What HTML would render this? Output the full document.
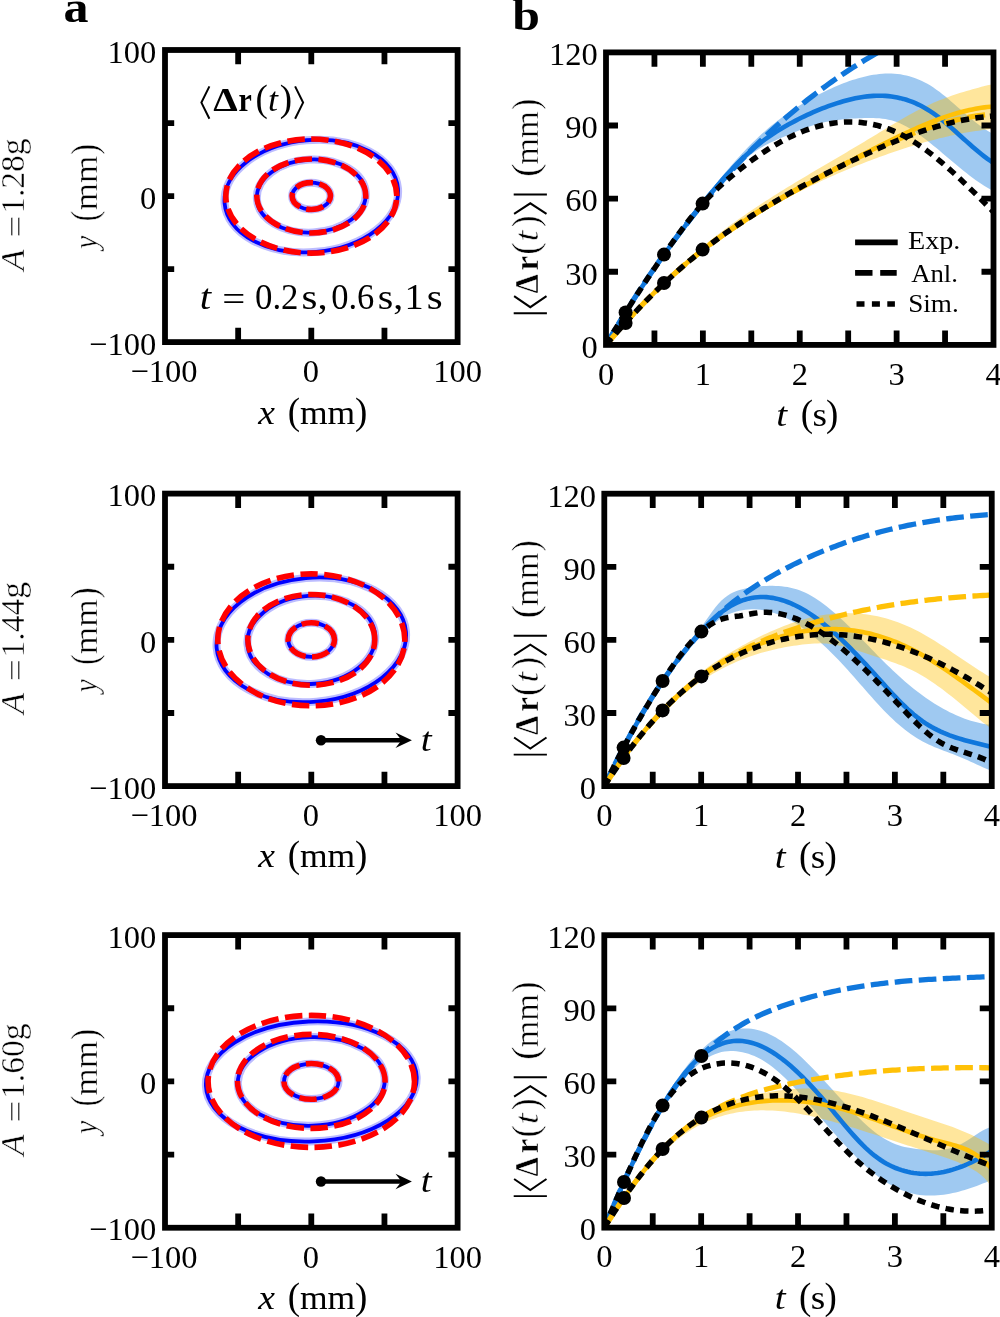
<!DOCTYPE html>
<html><head><meta charset="utf-8"><title>figure</title>
<style>html,body{margin:0;padding:0;background:#fff;width:1000px;height:1317px;overflow:hidden}svg{display:block;will-change:transform}</style>
</head><body>
<svg width="1000" height="1317" viewBox="0 0 1000 1317" style="font-family:'Liberation Serif',serif">
<rect width="1000" height="1317" fill="#fff"/>
<ellipse cx="311.3" cy="196.05" rx="19.2" ry="13.4" fill="none" stroke="#bcbcff" stroke-width="8"/>
<ellipse cx="311.3" cy="196.05" rx="19.2" ry="13.4" fill="none" stroke="#0000ff" stroke-width="3.8"/>
<ellipse cx="311.3" cy="196.05" rx="54.5" ry="36.5" fill="none" stroke="#bcbcff" stroke-width="8" transform="rotate(-3 311.3 196.05)"/>
<ellipse cx="311.3" cy="196.05" rx="54.5" ry="36.5" fill="none" stroke="#0000ff" stroke-width="3.8" transform="rotate(-3 311.3 196.05)"/>
<ellipse cx="311.3" cy="196.05" rx="87" ry="56" fill="none" stroke="#bcbcff" stroke-width="8" transform="rotate(-5 311.3 196.05)"/>
<ellipse cx="311.3" cy="196.05" rx="87" ry="56" fill="none" stroke="#0000ff" stroke-width="3.8" transform="rotate(-5 311.3 196.05)"/>
<path d="M330.5,196.05 A19.2,13.4 0 0 0 292.1,196.05 A19.2,13.4 0 0 0 330.5,196.05" fill="none" stroke="#ff0000" stroke-width="5.6" stroke-dasharray="17.4 6.5"/>
<path d="M365.8,196.05 A54.5,37 0 0 0 256.8,196.05 A54.5,37 0 0 0 365.8,196.05" fill="none" stroke="#ff0000" stroke-width="5.6" stroke-dasharray="17.4 6.5"/>
<path d="M396.8,196.05 A85.5,57.1 0 0 0 225.8,196.05 A85.5,57.1 0 0 0 396.8,196.05" fill="none" stroke="#ff0000" stroke-width="5.6" stroke-dasharray="17.4 6.5"/>
<clipPath id="cb0"><rect x="606" y="52.4" width="387.5" height="292.5"/></clipPath>
<g clip-path="url(#cb0)" fill="none">
<path d="M606,344.9 L609,339.49 L612.01,334.15 L615.01,328.88 L618.02,323.69 L621.02,318.57 L624.02,313.52 L627.03,308.54 L630.03,303.62 L633.03,298.77 L636.04,293.98 L639.04,289.25 L642.05,284.59 L645.05,279.98 L648.05,275.42 L651.06,270.92 L654.06,266.47 L657.07,262.08 L660.07,257.73 L663.07,253.43 L666.08,249.17 L669.08,244.96 L672.09,240.79 L675.09,236.66 L678.09,232.57 L681.1,228.52 L684.1,224.5 L687.1,220.52 L690.11,216.57 L693.11,212.65 L696.12,208.75 L699.12,204.89 L702.12,201.05 L705.13,197.23 L708.13,193.44 L711.14,189.67 L714.14,185.94 L717.14,182.25 L720.15,178.6 L723.15,174.99 L726.16,171.43 L729.16,167.91 L732.16,164.46 L735.17,161.05 L738.17,157.71 L741.17,154.44 L744.18,151.23 L747.18,148.09 L750.19,145.02 L753.19,142.04 L756.19,139.14 L759.2,136.31 L762.2,133.57 L765.21,130.91 L768.21,128.33 L771.21,125.82 L774.22,123.38 L777.22,121.02 L780.22,118.72 L783.23,116.49 L786.23,114.33 L789.24,112.23 L792.24,110.19 L795.24,108.21 L798.25,106.29 L801.25,104.42 L804.26,102.61 L807.26,100.85 L810.26,99.13 L813.27,97.47 L816.27,95.85 L819.28,94.28 L822.28,92.75 L825.28,91.26 L828.29,89.82 L831.29,88.42 L834.29,87.07 L837.3,85.77 L840.3,84.52 L843.31,83.33 L846.31,82.2 L849.31,81.12 L852.32,80.1 L855.32,79.14 L858.33,78.25 L861.33,77.42 L864.33,76.66 L867.34,75.97 L870.34,75.36 L873.34,74.83 L876.35,74.39 L879.35,74.03 L882.36,73.77 L885.36,73.6 L888.36,73.54 L891.37,73.58 L894.37,73.73 L897.38,73.99 L900.38,74.37 L903.38,74.88 L906.39,75.51 L909.39,76.27 L912.4,77.17 L915.4,78.2 L918.4,79.38 L921.41,80.7 L924.41,82.18 L927.41,83.81 L930.42,85.6 L933.42,87.55 L936.43,89.65 L939.43,91.86 L942.43,94.19 L945.44,96.62 L948.44,99.11 L951.45,101.67 L954.45,104.26 L957.45,106.88 L960.46,109.51 L963.46,112.13 L966.47,114.72 L969.47,117.26 L972.47,119.75 L975.48,122.15 L978.48,124.46 L981.48,126.66 L984.49,128.73 L987.49,130.65 L990.5,132.4 L993.5,133.98 L993.5,190.94 L990.5,189.4 L987.49,187.73 L984.49,185.93 L981.48,184.03 L978.48,182.02 L975.48,179.91 L972.47,177.72 L969.47,175.46 L966.47,173.12 L963.46,170.73 L960.46,168.29 L957.45,165.81 L954.45,163.3 L951.45,160.77 L948.44,158.23 L945.44,155.68 L942.43,153.14 L939.43,150.61 L936.43,148.11 L933.42,145.64 L930.42,143.22 L927.41,140.85 L924.41,138.53 L921.41,136.29 L918.4,134.13 L915.4,132.06 L912.4,130.09 L909.39,128.24 L906.39,126.52 L903.38,124.94 L900.38,123.53 L897.38,122.29 L894.37,121.23 L891.37,120.35 L888.36,119.64 L885.36,119.09 L882.36,118.67 L879.35,118.37 L876.35,118.17 L873.34,118.06 L870.34,118.03 L867.34,118.05 L864.33,118.11 L861.33,118.2 L858.33,118.31 L855.32,118.45 L852.32,118.61 L849.31,118.8 L846.31,119.04 L843.31,119.31 L840.3,119.63 L837.3,120 L834.29,120.42 L831.29,120.89 L828.29,121.43 L825.28,122.04 L822.28,122.71 L819.28,123.46 L816.27,124.28 L813.27,125.19 L810.26,126.17 L807.26,127.22 L804.26,128.33 L801.25,129.49 L798.25,130.7 L795.24,131.93 L792.24,133.19 L789.24,134.45 L786.23,135.73 L783.23,136.99 L780.22,138.26 L777.22,139.55 L774.22,140.88 L771.21,142.27 L768.21,143.74 L765.21,145.3 L762.2,146.98 L759.2,148.79 L756.19,150.75 L753.19,152.88 L750.19,155.19 L747.18,157.66 L744.18,160.28 L741.17,163.05 L738.17,165.95 L735.17,168.97 L732.16,172.11 L729.16,175.35 L726.16,178.69 L723.15,182.11 L720.15,185.61 L717.14,189.17 L714.14,192.78 L711.14,196.44 L708.13,200.13 L705.13,203.85 L702.12,207.59 L699.12,211.33 L696.12,215.08 L693.11,218.85 L690.11,222.64 L687.1,226.45 L684.1,230.29 L681.1,234.17 L678.09,238.08 L675.09,242.02 L672.09,246.01 L669.08,250.05 L666.08,254.15 L663.07,258.29 L660.07,262.5 L657.07,266.76 L654.06,271.07 L651.06,275.43 L648.05,279.84 L645.05,284.29 L642.05,288.79 L639.04,293.32 L636.04,297.89 L633.03,302.49 L630.03,307.12 L627.03,311.77 L624.02,316.46 L621.02,321.16 L618.02,325.88 L615.01,330.62 L612.01,335.37 L609,340.13 L606,344.9Z" fill="#1077dc" fill-opacity="0.4" stroke="none"/>
<path d="M606,344.9 L609,341.11 L612.01,337.38 L615.01,333.71 L618.02,330.08 L621.02,326.51 L624.02,322.98 L627.03,319.51 L630.03,316.09 L633.03,312.71 L636.04,309.39 L639.04,306.11 L642.05,302.87 L645.05,299.68 L648.05,296.54 L651.06,293.44 L654.06,290.39 L657.07,287.37 L660.07,284.4 L663.07,281.47 L666.08,278.59 L669.08,275.74 L672.09,272.93 L675.09,270.16 L678.09,267.43 L681.1,264.73 L684.1,262.07 L687.1,259.45 L690.11,256.86 L693.11,254.3 L696.12,251.78 L699.12,249.29 L702.12,246.83 L705.13,244.41 L708.13,242.01 L711.14,239.65 L714.14,237.31 L717.14,235 L720.15,232.72 L723.15,230.47 L726.16,228.24 L729.16,226.04 L732.16,223.87 L735.17,221.71 L738.17,219.58 L741.17,217.48 L744.18,215.39 L747.18,213.33 L750.19,211.29 L753.19,209.26 L756.19,207.26 L759.2,205.27 L762.2,203.3 L765.21,201.35 L768.21,199.42 L771.21,197.5 L774.22,195.59 L777.22,193.7 L780.22,191.82 L783.23,189.96 L786.23,188.1 L789.24,186.26 L792.24,184.43 L795.24,182.6 L798.25,180.79 L801.25,178.98 L804.26,177.19 L807.26,175.39 L810.26,173.61 L813.27,171.83 L816.27,170.05 L819.28,168.28 L822.28,166.51 L825.28,164.75 L828.29,162.98 L831.29,161.22 L834.29,159.45 L837.3,157.69 L840.3,155.93 L843.31,154.16 L846.31,152.39 L849.31,150.62 L852.32,148.84 L855.32,147.06 L858.33,145.27 L861.33,143.48 L864.33,141.68 L867.34,139.87 L870.34,138.05 L873.34,136.23 L876.35,134.4 L879.35,132.57 L882.36,130.73 L885.36,128.91 L888.36,127.09 L891.37,125.28 L894.37,123.48 L897.38,121.7 L900.38,119.95 L903.38,118.21 L906.39,116.5 L909.39,114.82 L912.4,113.18 L915.4,111.57 L918.4,110 L921.41,108.48 L924.41,106.99 L927.41,105.56 L930.42,104.18 L933.42,102.86 L936.43,101.59 L939.43,100.36 L942.43,99.18 L945.44,98.04 L948.44,96.94 L951.45,95.87 L954.45,94.84 L957.45,93.83 L960.46,92.87 L963.46,91.93 L966.47,91.02 L969.47,90.13 L972.47,89.28 L975.48,88.45 L978.48,87.64 L981.48,86.86 L984.49,86.1 L987.49,85.36 L990.5,84.64 L993.5,83.94 L993.5,128.78 L990.5,129.1 L987.49,129.44 L984.49,129.81 L981.48,130.2 L978.48,130.63 L975.48,131.07 L972.47,131.55 L969.47,132.05 L966.47,132.57 L963.46,133.12 L960.46,133.7 L957.45,134.3 L954.45,134.92 L951.45,135.56 L948.44,136.23 L945.44,136.92 L942.43,137.64 L939.43,138.37 L936.43,139.13 L933.42,139.9 L930.42,140.7 L927.41,141.52 L924.41,142.36 L921.41,143.22 L918.4,144.09 L915.4,144.99 L912.4,145.9 L909.39,146.84 L906.39,147.79 L903.38,148.75 L900.38,149.74 L897.38,150.74 L894.37,151.76 L891.37,152.79 L888.36,153.84 L885.36,154.91 L882.36,155.99 L879.35,157.08 L876.35,158.19 L873.34,159.31 L870.34,160.45 L867.34,161.59 L864.33,162.76 L861.33,163.93 L858.33,165.12 L855.32,166.32 L852.32,167.54 L849.31,168.77 L846.31,170.02 L843.31,171.28 L840.3,172.56 L837.3,173.86 L834.29,175.17 L831.29,176.49 L828.29,177.84 L825.28,179.2 L822.28,180.58 L819.28,181.97 L816.27,183.39 L813.27,184.82 L810.26,186.27 L807.26,187.74 L804.26,189.23 L801.25,190.74 L798.25,192.27 L795.24,193.82 L792.24,195.39 L789.24,196.97 L786.23,198.59 L783.23,200.22 L780.22,201.87 L777.22,203.55 L774.22,205.24 L771.21,206.96 L768.21,208.71 L765.21,210.47 L762.2,212.26 L759.2,214.08 L756.19,215.91 L753.19,217.77 L750.19,219.66 L747.18,221.57 L744.18,223.51 L741.17,225.47 L738.17,227.45 L735.17,229.47 L732.16,231.51 L729.16,233.57 L726.16,235.67 L723.15,237.79 L720.15,239.93 L717.14,242.11 L714.14,244.31 L711.14,246.54 L708.13,248.81 L705.13,251.1 L702.12,253.41 L699.12,255.76 L696.12,258.14 L693.11,260.55 L690.11,262.99 L687.1,265.46 L684.1,267.96 L681.1,270.5 L678.09,273.06 L675.09,275.66 L672.09,278.29 L669.08,280.95 L666.08,283.64 L663.07,286.37 L660.07,289.13 L657.07,291.93 L654.06,294.75 L651.06,297.62 L648.05,300.52 L645.05,303.45 L642.05,306.42 L639.04,309.42 L636.04,312.46 L633.03,315.54 L630.03,318.65 L627.03,321.8 L624.02,324.99 L621.02,328.21 L618.02,331.47 L615.01,334.77 L612.01,338.11 L609,341.48 L606,344.9Z" fill="#ffc107" fill-opacity="0.4" stroke="none"/>
<path d="M606,344.9 L609,339.77 L612.01,334.69 L615.01,329.66 L618.02,324.69 L621.02,319.77 L624.02,314.9 L627.03,310.08 L630.03,305.31 L633.03,300.59 L636.04,295.92 L639.04,291.29 L642.05,286.72 L645.05,282.19 L648.05,277.7 L651.06,273.27 L654.06,268.87 L657.07,264.52 L660.07,260.22 L663.07,255.96 L666.08,251.74 L669.08,247.56 L672.09,243.42 L675.09,239.32 L678.09,235.26 L681.1,231.24 L684.1,227.26 L687.1,223.31 L690.11,219.41 L693.11,215.53 L696.12,211.7 L699.12,207.9 L702.12,204.13 L705.13,200.39 L708.13,196.7 L711.14,193.04 L714.14,189.43 L717.14,185.88 L720.15,182.38 L723.15,178.94 L726.16,175.56 L729.16,172.25 L732.16,169.02 L735.17,165.87 L738.17,162.8 L741.17,159.81 L744.18,156.93 L747.18,154.13 L750.19,151.43 L753.19,148.82 L756.19,146.3 L759.2,143.87 L762.2,141.53 L765.21,139.28 L768.21,137.13 L771.21,135.06 L774.22,133.07 L777.22,131.16 L780.22,129.32 L783.23,127.54 L786.23,125.8 L789.24,124.11 L792.24,122.47 L795.24,120.87 L798.25,119.32 L801.25,117.8 L804.26,116.34 L807.26,114.92 L810.26,113.54 L813.27,112.2 L816.27,110.92 L819.28,109.67 L822.28,108.47 L825.28,107.31 L828.29,106.2 L831.29,105.13 L834.29,104.11 L837.3,103.13 L840.3,102.2 L843.31,101.31 L846.31,100.48 L849.31,99.71 L852.32,98.99 L855.32,98.34 L858.33,97.75 L861.33,97.23 L864.33,96.79 L867.34,96.41 L870.34,96.12 L873.34,95.91 L876.35,95.78 L879.35,95.73 L882.36,95.78 L885.36,95.92 L888.36,96.16 L891.37,96.5 L894.37,96.94 L897.38,97.49 L900.38,98.14 L903.38,98.91 L906.39,99.79 L909.39,100.8 L912.4,101.92 L915.4,103.17 L918.4,104.55 L921.41,106.05 L924.41,107.68 L927.41,109.44 L930.42,111.33 L933.42,113.35 L936.43,115.49 L939.43,117.77 L942.43,120.17 L945.44,122.67 L948.44,125.25 L951.45,127.89 L954.45,130.57 L957.45,133.28 L960.46,135.99 L963.46,138.71 L966.47,141.41 L969.47,144.09 L972.47,146.73 L975.48,149.31 L978.48,151.83 L981.48,154.26 L984.49,156.61 L987.49,158.85 L990.5,160.97 L993.5,162.96" stroke="#1077dc" stroke-width="4.6"/>
<path d="M606,344.91 L609,341.46 L612.01,338.04 L615.01,334.63 L618.02,331.25 L621.02,327.89 L624.02,324.55 L627.03,321.24 L630.03,317.96 L633.03,314.7 L636.04,311.48 L639.04,308.29 L642.05,305.13 L645.05,302 L648.05,298.92 L651.06,295.87 L654.06,292.86 L657.07,289.89 L660.07,286.97 L663.07,284.09 L666.08,281.25 L669.08,278.46 L672.09,275.72 L675.09,273.02 L678.09,270.36 L681.1,267.75 L684.1,265.17 L687.1,262.64 L690.11,260.14 L693.11,257.69 L696.12,255.27 L699.12,252.89 L702.12,250.54 L705.13,248.23 L708.13,245.95 L711.14,243.71 L714.14,241.5 L717.14,239.32 L720.15,237.17 L723.15,235.05 L726.16,232.96 L729.16,230.9 L732.16,228.86 L735.17,226.85 L738.17,224.87 L741.17,222.91 L744.18,220.98 L747.18,219.06 L750.19,217.17 L753.19,215.31 L756.19,213.46 L759.2,211.63 L762.2,209.82 L765.21,208.03 L768.21,206.25 L771.21,204.5 L774.22,202.75 L777.22,201.02 L780.22,199.31 L783.23,197.61 L786.23,195.92 L789.24,194.24 L792.24,192.57 L795.24,190.91 L798.25,189.26 L801.25,187.62 L804.26,185.98 L807.26,184.35 L810.26,182.73 L813.27,181.11 L816.27,179.49 L819.28,177.88 L822.28,176.27 L825.28,174.66 L828.29,173.05 L831.29,171.43 L834.29,169.82 L837.3,168.21 L840.3,166.6 L843.31,164.99 L846.31,163.38 L849.31,161.78 L852.32,160.18 L855.32,158.58 L858.33,156.99 L861.33,155.41 L864.33,153.83 L867.34,152.26 L870.34,150.7 L873.34,149.14 L876.35,147.6 L879.35,146.07 L882.36,144.54 L885.36,143.03 L888.36,141.54 L891.37,140.05 L894.37,138.58 L897.38,137.13 L900.38,135.69 L903.38,134.27 L906.39,132.86 L909.39,131.47 L912.4,130.11 L915.4,128.76 L918.4,127.44 L921.41,126.14 L924.41,124.87 L927.41,123.62 L930.42,122.41 L933.42,121.22 L936.43,120.07 L939.43,118.95 L942.43,117.87 L945.44,116.83 L948.44,115.82 L951.45,114.86 L954.45,113.94 L957.45,113.06 L960.46,112.22 L963.46,111.44 L966.47,110.7 L969.47,110.02 L972.47,109.38 L975.48,108.8 L978.48,108.27 L981.48,107.8 L984.49,107.39 L987.49,107.04 L990.5,106.75 L993.5,106.53" stroke="#ffc107" stroke-width="4.6"/>
<path d="M606,344.91 L609.01,339.76 L612.02,334.65 L615.03,329.6 L618.04,324.59 L621.05,319.64 L624.06,314.74 L627.07,309.89 L630.08,305.09 L633.09,300.34 L636.11,295.64 L639.12,290.99 L642.13,286.39 L645.14,281.84 L648.15,277.33 L651.16,272.87 L654.17,268.47 L657.18,264.1 L660.19,259.79 L663.2,255.52 L666.21,251.3 L669.22,247.13 L672.23,243 L675.24,238.92 L678.25,234.88 L681.26,230.88 L684.27,226.94 L687.28,223.03 L690.29,219.17 L693.31,215.36 L696.32,211.58 L699.33,207.85 L702.34,204.17 L705.35,200.52 L708.36,196.92 L711.37,193.36 L714.38,189.84 L717.39,186.37 L720.4,182.93 L723.41,179.53 L726.42,176.18 L729.43,172.86 L732.44,169.59 L735.45,166.35 L738.46,163.15 L741.47,160 L744.48,156.88 L747.49,153.79 L750.51,150.75 L753.52,147.74 L756.53,144.78 L759.54,141.84 L762.55,138.95 L765.56,136.09 L768.57,133.27 L771.58,130.48 L774.59,127.73 L777.6,125.01 L780.61,122.33 L783.62,119.68 L786.63,117.06 L789.64,114.48 L792.65,111.94 L795.66,109.43 L798.67,106.95 L801.68,104.5 L804.69,102.08 L807.71,99.7 L810.72,97.35 L813.73,95.03 L816.74,92.74 L819.75,90.48 L822.76,88.25 L825.77,86.05 L828.78,83.88 L831.79,81.75 L834.8,79.64 L837.81,77.56 L840.82,75.5 L843.83,73.48 L846.84,71.48 L849.85,69.52 L852.86,67.57 L855.87,65.66 L858.88,63.77 L861.89,61.91 L864.91,60.08 L867.92,58.27 L870.93,56.49 L873.94,54.73 L876.95,52.99 L879.96,51.28 L882.97,49.6 L885.98,47.94 L888.99,46.3 L892,44.69" stroke="#1077dc" stroke-width="5.3" stroke-dasharray="17.7 6.4"/>
<path d="M606,344.92 L609,341.41 L612.01,337.93 L615.01,334.48 L618.02,331.07 L621.02,327.69 L624.02,324.35 L627.03,321.04 L630.03,317.76 L633.03,314.53 L636.04,311.32 L639.04,308.16 L642.05,305.03 L645.05,301.93 L648.05,298.88 L651.06,295.86 L654.06,292.88 L657.07,289.95 L660.07,287.05 L663.07,284.19 L666.08,281.37 L669.08,278.59 L672.09,275.86 L675.09,273.16 L678.09,270.5 L681.1,267.88 L684.1,265.3 L687.1,262.75 L690.11,260.24 L693.11,257.77 L696.12,255.34 L699.12,252.94 L702.12,250.58 L705.13,248.25 L708.13,245.96 L711.14,243.69 L714.14,241.47 L717.14,239.27 L720.15,237.1 L723.15,234.96 L726.16,232.85 L729.16,230.77 L732.16,228.71 L735.17,226.68 L738.17,224.68 L741.17,222.7 L744.18,220.74 L747.18,218.8 L750.19,216.88 L753.19,214.98 L756.19,213.11 L759.2,211.25 L762.2,209.41 L765.21,207.58 L768.21,205.78 L771.21,203.99 L774.22,202.21 L777.22,200.46 L780.22,198.72 L783.23,196.99 L786.23,195.28 L789.24,193.58 L792.24,191.89 L795.24,190.22 L798.25,188.56 L801.25,186.91 L804.26,185.27 L807.26,183.64 L810.26,182.02 L813.27,180.42 L816.27,178.82 L819.28,177.23 L822.28,175.65 L825.28,174.08 L828.29,172.51 L831.29,170.95 L834.29,169.4 L837.3,167.85 L840.3,166.31 L843.31,164.79 L846.31,163.27 L849.31,161.76 L852.32,160.26 L855.32,158.77 L858.33,157.3 L861.33,155.83 L864.33,154.39 L867.34,152.95 L870.34,151.53 L873.34,150.12 L876.35,148.73 L879.35,147.36 L882.36,146.01 L885.36,144.67 L888.36,143.35 L891.37,142.05 L894.37,140.77 L897.38,139.51 L900.38,138.27 L903.38,137.06 L906.39,135.86 L909.39,134.69 L912.4,133.54 L915.4,132.42 L918.4,131.33 L921.41,130.25 L924.41,129.21 L927.41,128.19 L930.42,127.2 L933.42,126.24 L936.43,125.31 L939.43,124.41 L942.43,123.53 L945.44,122.69 L948.44,121.88 L951.45,121.11 L954.45,120.36 L957.45,119.65 L960.46,118.98 L963.46,118.34 L966.47,117.73 L969.47,117.17 L972.47,116.63 L975.48,116.14 L978.48,115.68 L981.48,115.27 L984.49,114.89 L987.49,114.56 L990.5,114.26 L993.5,114.01" stroke="#ffc107" stroke-width="5.3" stroke-dasharray="17.7 6.4"/>
<path d="M606,344.9 L609,339.77 L612.01,334.7 L615.01,329.69 L618.02,324.74 L621.02,319.84 L624.02,314.99 L627.03,310.19 L630.03,305.44 L633.03,300.73 L636.04,296.07 L639.04,291.45 L642.05,286.87 L645.05,282.34 L648.05,277.83 L651.06,273.37 L654.06,268.94 L657.07,264.54 L660.07,260.17 L663.07,255.82 L666.08,251.51 L669.08,247.22 L672.09,242.98 L675.09,238.78 L678.09,234.63 L681.1,230.55 L684.1,226.54 L687.1,222.6 L690.11,218.75 L693.11,214.99 L696.12,211.33 L699.12,207.78 L702.12,204.34 L705.13,201.03 L708.13,197.83 L711.14,194.74 L714.14,191.76 L717.14,188.88 L720.15,186.08 L723.15,183.36 L726.16,180.72 L729.16,178.14 L732.16,175.62 L735.17,173.15 L738.17,170.73 L741.17,168.35 L744.18,166.02 L747.18,163.74 L750.19,161.5 L753.19,159.32 L756.19,157.19 L759.2,155.1 L762.2,153.07 L765.21,151.1 L768.21,149.18 L771.21,147.31 L774.22,145.51 L777.22,143.76 L780.22,142.07 L783.23,140.44 L786.23,138.87 L789.24,137.36 L792.24,135.92 L795.24,134.54 L798.25,133.23 L801.25,131.99 L804.26,130.81 L807.26,129.7 L810.26,128.66 L813.27,127.69 L816.27,126.8 L819.28,125.98 L822.28,125.23 L825.28,124.55 L828.29,123.95 L831.29,123.43 L834.29,122.98 L837.3,122.61 L840.3,122.32 L843.31,122.1 L846.31,121.97 L849.31,121.92 L852.32,121.95 L855.32,122.06 L858.33,122.26 L861.33,122.53 L864.33,122.9 L867.34,123.35 L870.34,123.88 L873.34,124.5 L876.35,125.21 L879.35,126.01 L882.36,126.9 L885.36,127.88 L888.36,128.95 L891.37,130.11 L894.37,131.36 L897.38,132.71 L900.38,134.15 L903.38,135.68 L906.39,137.31 L909.39,139.03 L912.4,140.84 L915.4,142.74 L918.4,144.71 L921.41,146.77 L924.41,148.9 L927.41,151.1 L930.42,153.37 L933.42,155.71 L936.43,158.12 L939.43,160.58 L942.43,163.11 L945.44,165.69 L948.44,168.32 L951.45,171 L954.45,173.72 L957.45,176.49 L960.46,179.3 L963.46,182.14 L966.47,185.02 L969.47,187.93 L972.47,190.87 L975.48,193.83 L978.48,196.82 L981.48,199.82 L984.49,202.84 L987.49,205.87 L990.5,208.91 L993.5,211.96" stroke="#000" stroke-width="5.5" stroke-dasharray="8.4 6.3"/>
<path d="M606,344.92 L609,341.38 L612.01,337.89 L615.01,334.43 L618.02,331.01 L621.02,327.63 L624.02,324.28 L627.03,320.98 L630.03,317.71 L633.03,314.48 L636.04,311.29 L639.04,308.13 L642.05,305.02 L645.05,301.94 L648.05,298.9 L651.06,295.89 L654.06,292.93 L657.07,290 L660.07,287.11 L663.07,284.25 L666.08,281.44 L669.08,278.66 L672.09,275.92 L675.09,273.21 L678.09,270.55 L681.1,267.92 L684.1,265.32 L687.1,262.77 L690.11,260.25 L693.11,257.77 L696.12,255.32 L699.12,252.92 L702.12,250.54 L705.13,248.21 L708.13,245.91 L711.14,243.65 L714.14,241.42 L717.14,239.22 L720.15,237.05 L723.15,234.92 L726.16,232.81 L729.16,230.73 L732.16,228.68 L735.17,226.65 L738.17,224.64 L741.17,222.66 L744.18,220.7 L747.18,218.76 L750.19,216.84 L753.19,214.94 L756.19,213.06 L759.2,211.19 L762.2,209.34 L765.21,207.51 L768.21,205.7 L771.21,203.9 L774.22,202.12 L777.22,200.35 L780.22,198.6 L783.23,196.86 L786.23,195.14 L789.24,193.44 L792.24,191.75 L795.24,190.07 L798.25,188.41 L801.25,186.76 L804.26,185.13 L807.26,183.51 L810.26,181.9 L813.27,180.31 L816.27,178.72 L819.28,177.15 L822.28,175.59 L825.28,174.05 L828.29,172.51 L831.29,170.99 L834.29,169.48 L837.3,167.97 L840.3,166.48 L843.31,165 L846.31,163.53 L849.31,162.06 L852.32,160.61 L855.32,159.17 L858.33,157.74 L861.33,156.32 L864.33,154.91 L867.34,153.52 L870.34,152.14 L873.34,150.77 L876.35,149.42 L879.35,148.08 L882.36,146.77 L885.36,145.47 L888.36,144.18 L891.37,142.92 L894.37,141.68 L897.38,140.45 L900.38,139.25 L903.38,138.07 L906.39,136.91 L909.39,135.77 L912.4,134.66 L915.4,133.57 L918.4,132.5 L921.41,131.46 L924.41,130.45 L927.41,129.47 L930.42,128.51 L933.42,127.58 L936.43,126.68 L939.43,125.81 L942.43,124.97 L945.44,124.16 L948.44,123.39 L951.45,122.64 L954.45,121.93 L957.45,121.25 L960.46,120.61 L963.46,120 L966.47,119.43 L969.47,118.9 L972.47,118.4 L975.48,117.94 L978.48,117.53 L981.48,117.15 L984.49,116.81 L987.49,116.51 L990.5,116.25 L993.5,116.03" stroke="#000" stroke-width="5.5" stroke-dasharray="8.4 6.3"/>
</g>
<circle cx="625.6" cy="312.4" r="7"/>
<circle cx="664" cy="254.6" r="7"/>
<circle cx="702.6" cy="203.6" r="7"/>
<circle cx="625.6" cy="323" r="7"/>
<circle cx="664" cy="283" r="7"/>
<circle cx="702.6" cy="249.6" r="7"/>
<rect x="165" y="50" width="292.6" height="292.1" fill="none" stroke="#000" stroke-width="5.8"/>
<path d="M238.15,342.1V327.8 M238.15,50V64.3 M311.3,342.1V327.8 M311.3,50V64.3 M384.45,342.1V327.8 M384.45,50V64.3 M165,123.03H174.2 M457.6,123.03H448.4 M165,196.05H174.2 M457.6,196.05H448.4 M165,269.08H174.2 M457.6,269.08H448.4 " stroke="#000" stroke-width="5.8" fill="none"/>
<text x="156.2" y="62.7" font-size="32.5" text-anchor="end">100</text>
<text x="156.2" y="208.75" font-size="32.5" text-anchor="end">0</text>
<text x="156.2" y="354.8" font-size="32.5" text-anchor="end">−100</text>
<text x="164" y="382.3" font-size="32.5" text-anchor="middle">−100</text>
<text x="310.8" y="382.3" font-size="32.5" text-anchor="middle">0</text>
<text x="457.6" y="382.3" font-size="32.5" text-anchor="middle">100</text>
<rect x="606" y="52.4" width="387.5" height="292.5" fill="none" stroke="#000" stroke-width="5.8"/>
<path d="M654.44,344.9V330.5 M654.44,52.4V66.8 M702.88,344.9V330.5 M702.88,52.4V66.8 M751.31,344.9V330.5 M751.31,52.4V66.8 M799.75,344.9V330.5 M799.75,52.4V66.8 M848.19,344.9V330.5 M848.19,52.4V66.8 M896.62,344.9V330.5 M896.62,52.4V66.8 M945.06,344.9V330.5 M945.06,52.4V66.8 M606,271.77H618 M993.5,271.77H981.5 M606,198.65H618 M993.5,198.65H981.5 M606,125.52H618 M993.5,125.52H981.5 " stroke="#000" stroke-width="5.8" fill="none"/>
<text x="597.7" y="357.7" font-size="32.5" text-anchor="end">0</text>
<text x="597.7" y="284.57" font-size="32.5" text-anchor="end">30</text>
<text x="597.7" y="211.45" font-size="32.5" text-anchor="end">60</text>
<text x="597.7" y="138.32" font-size="32.5" text-anchor="end">90</text>
<text x="597.7" y="65.2" font-size="32.5" text-anchor="end">120</text>
<text x="606" y="384.6" font-size="32.5" text-anchor="middle">0</text>
<text x="702.88" y="384.6" font-size="32.5" text-anchor="middle">1</text>
<text x="799.75" y="384.6" font-size="32.5" text-anchor="middle">2</text>
<text x="896.62" y="384.6" font-size="32.5" text-anchor="middle">3</text>
<text x="993.5" y="384.6" font-size="32.5" text-anchor="middle">4</text>
<text transform="matrix(1.1077,0,0,1,258.26,423.8)" font-size="34" style="font-style:italic">x</text>
<text transform="matrix(1.0000,0,0,1,287.67,423.8)" font-size="37">(</text>
<text transform="matrix(1.0455,0,0,1,299.95,423.8)" font-size="34">mm</text>
<text transform="matrix(1.0000,0,0,1,354.91,423.8)" font-size="37">)</text>
<text transform="matrix(0,-0.8800,1,0,97.3,248.9)" font-size="34" style="font-style:italic;stroke:#fff;stroke-width:0.45px">y</text>
<text transform="matrix(0,-0.8800,1,0,97.3,221.46)" font-size="37" style="stroke:#fff;stroke-width:0.45px">(</text>
<text transform="matrix(0,-1.0378,1,0,97.3,210.54)" font-size="34" style="stroke:#fff;stroke-width:0.45px">mm</text>
<text transform="matrix(0,-0.8839,1,0,97.3,154.75)" font-size="37" style="stroke:#fff;stroke-width:0.45px">)</text>
<text transform="matrix(0,-1.0200,1,0,23.9,270.5)" font-size="34" style="font-style:italic;stroke:#fff;stroke-width:0.45px">A</text>
<text transform="matrix(0,-1.1500,1,0,27.2,237.64)" font-size="34" style="stroke:#fff;stroke-width:0.45px">=</text>
<text transform="matrix(0,-0.9868,1,0,23.9,213.85)" font-size="34" style="stroke:#fff;stroke-width:0.45px">1.28g</text>
<text transform="matrix(1.1500,0,0,1,776.37,426.3)" font-size="34" style="font-style:italic">t</text>
<text transform="matrix(1.0000,0,0,1,800.77,426.3)" font-size="37">(</text>
<text transform="matrix(1.0935,0,0,1,812.38,426.3)" font-size="34">s</text>
<text transform="matrix(1.0000,0,0,1,826.11,426.3)" font-size="37">)</text>
<path d="M513.7,313.3H546.9" stroke="#000" stroke-width="1.9"/>
<path d="M514.1,296.2L530.3,307.2L546.5,296.2" fill="none" stroke="#000" stroke-width="2"/>
<text transform="matrix(0,-0.9028,1,0,538.2,293.62)" font-size="34" style="font-weight:bold;stroke:#fff;stroke-width:0.45px">Δ</text>
<text transform="matrix(0,-0.9742,1,0,538.2,270.49)" font-size="34" style="font-weight:bold;stroke:#fff;stroke-width:0.45px">r</text>
<text transform="matrix(0,-1.0102,1,0,538.2,254.64)" font-size="37" style="stroke:#fff;stroke-width:0.45px">(</text>
<text transform="matrix(0,-1.1500,1,0,538.2,241.43)" font-size="34" style="font-style:italic;stroke:#fff;stroke-width:0.45px">t</text>
<text transform="matrix(0,-0.9260,1,0,538.2,227.1)" font-size="37" style="stroke:#fff;stroke-width:0.45px">)</text>
<path d="M514.1,213.8L530.3,203.3L546.5,213.8" fill="none" stroke="#000" stroke-width="2"/>
<path d="M513.7,194.5H546.9" stroke="#000" stroke-width="1.9"/>
<text transform="matrix(0,-1.0944,1,0,538.2,177.08)" font-size="37" style="stroke:#fff;stroke-width:0.45px">(</text>
<text transform="matrix(0,-1.0146,1,0,538.2,164.72)" font-size="34" style="stroke:#fff;stroke-width:0.45px">mm</text>
<text transform="matrix(0,-0.8800,1,0,538.2,109.83)" font-size="37" style="stroke:#fff;stroke-width:0.45px">)</text>
<ellipse cx="311.3" cy="639.85" rx="23" ry="17" fill="none" stroke="#bcbcff" stroke-width="8"/>
<ellipse cx="311.3" cy="639.85" rx="23" ry="17" fill="none" stroke="#0000ff" stroke-width="3.8"/>
<ellipse cx="311.3" cy="639.85" rx="64" ry="44" fill="none" stroke="#bcbcff" stroke-width="8" transform="rotate(-4 311.3 639.85)"/>
<ellipse cx="311.3" cy="639.85" rx="64" ry="44" fill="none" stroke="#0000ff" stroke-width="3.8" transform="rotate(-4 311.3 639.85)"/>
<ellipse cx="311.3" cy="639.85" rx="95" ry="62" fill="none" stroke="#bcbcff" stroke-width="8" transform="rotate(-5 311.3 639.85)"/>
<ellipse cx="311.3" cy="639.85" rx="95" ry="62" fill="none" stroke="#0000ff" stroke-width="3.8" transform="rotate(-5 311.3 639.85)"/>
<path d="M334.5,639.85 A23.2,17.1 0 0 0 288.1,639.85 A23.2,17.1 0 0 0 334.5,639.85" fill="none" stroke="#ff0000" stroke-width="5.6" stroke-dasharray="17.4 6.5"/>
<path d="M374.8,639.85 A63.5,45.4 0 0 0 247.8,639.85 A63.5,45.4 0 0 0 374.8,639.85" fill="none" stroke="#ff0000" stroke-width="5.6" stroke-dasharray="17.4 6.5"/>
<path d="M404.8,639.85 A93.5,66 0 0 0 217.8,639.85 A93.5,66 0 0 0 404.8,639.85" fill="none" stroke="#ff0000" stroke-width="5.6" stroke-dasharray="17.4 6.5"/>
<clipPath id="cb1"><rect x="604.3" y="493.7" width="387.45" height="292.4"/></clipPath>
<g clip-path="url(#cb1)" fill="none">
<path d="M604.3,786.1 L607.3,779.67 L610.31,773.3 L613.31,767 L616.31,760.77 L619.32,754.62 L622.32,748.56 L625.32,742.58 L628.33,736.69 L631.33,730.91 L634.33,725.23 L637.34,719.66 L640.34,714.21 L643.35,708.88 L646.35,703.68 L649.35,698.62 L652.36,693.69 L655.36,688.91 L658.36,684.27 L661.37,679.8 L664.37,675.48 L667.37,671.31 L670.38,667.27 L673.38,663.33 L676.38,659.46 L679.39,655.65 L682.39,651.86 L685.39,648.08 L688.4,644.28 L691.4,640.43 L694.4,636.51 L697.41,632.5 L700.41,628.37 L703.42,624.11 L706.42,619.76 L709.42,615.45 L712.43,611.27 L715.43,607.33 L718.43,603.74 L721.44,600.59 L724.44,597.93 L727.44,595.69 L730.45,593.84 L733.45,592.31 L736.45,591.04 L739.46,590 L742.46,589.13 L745.46,588.4 L748.47,587.79 L751.47,587.29 L754.47,586.89 L757.48,586.57 L760.48,586.3 L763.48,586.09 L766.49,585.93 L769.49,585.84 L772.5,585.82 L775.5,585.88 L778.5,586.04 L781.51,586.29 L784.51,586.65 L787.51,587.12 L790.52,587.72 L793.52,588.45 L796.52,589.32 L799.53,590.34 L802.53,591.52 L805.53,592.85 L808.54,594.35 L811.54,596 L814.54,597.8 L817.55,599.73 L820.55,601.79 L823.55,603.97 L826.56,606.27 L829.56,608.67 L832.57,611.17 L835.57,613.76 L838.57,616.44 L841.58,619.19 L844.58,622.01 L847.58,624.89 L850.59,627.82 L853.59,630.8 L856.59,633.82 L859.6,636.87 L862.6,639.94 L865.6,643.03 L868.61,646.12 L871.61,649.21 L874.61,652.3 L877.62,655.38 L880.62,658.43 L883.62,661.45 L886.63,664.43 L889.63,667.37 L892.63,670.25 L895.64,673.08 L898.64,675.84 L901.65,678.53 L904.65,681.17 L907.65,683.73 L910.66,686.23 L913.66,688.66 L916.66,691.01 L919.67,693.3 L922.67,695.52 L925.67,697.67 L928.68,699.74 L931.68,701.74 L934.68,703.67 L937.69,705.52 L940.69,707.29 L943.69,708.99 L946.7,710.61 L949.7,712.15 L952.7,713.61 L955.71,714.99 L958.71,716.29 L961.72,717.51 L964.72,718.64 L967.72,719.69 L970.73,720.66 L973.73,721.53 L976.73,722.33 L979.74,723.03 L982.74,723.65 L985.74,724.18 L988.75,724.61 L991.75,724.96 L991.75,771.03 L988.75,769.79 L985.74,768.5 L982.74,767.16 L979.74,765.8 L976.73,764.42 L973.73,763.03 L970.73,761.65 L967.72,760.29 L964.72,758.96 L961.72,757.67 L958.71,756.44 L955.71,755.25 L952.7,754.1 L949.7,752.97 L946.7,751.84 L943.69,750.71 L940.69,749.56 L937.69,748.37 L934.68,747.14 L931.68,745.85 L928.68,744.48 L925.67,743.03 L922.67,741.48 L919.67,739.81 L916.66,738.02 L913.66,736.09 L910.66,734.04 L907.65,731.85 L904.65,729.54 L901.65,727.11 L898.64,724.56 L895.64,721.89 L892.63,719.12 L889.63,716.23 L886.63,713.24 L883.62,710.15 L880.62,706.98 L877.62,703.74 L874.61,700.43 L871.61,697.07 L868.61,693.68 L865.6,690.26 L862.6,686.82 L859.6,683.38 L856.59,679.95 L853.59,676.53 L850.59,673.14 L847.58,669.8 L844.58,666.51 L841.58,663.27 L838.57,660.09 L835.57,656.97 L832.57,653.92 L829.56,650.94 L826.56,648.03 L823.55,645.21 L820.55,642.46 L817.55,639.8 L814.54,637.22 L811.54,634.74 L808.54,632.36 L805.53,630.07 L802.53,627.89 L799.53,625.82 L796.52,623.86 L793.52,622.01 L790.52,620.28 L787.51,618.66 L784.51,617.16 L781.51,615.79 L778.5,614.54 L775.5,613.42 L772.5,612.42 L769.49,611.56 L766.49,610.83 L763.48,610.24 L760.48,609.79 L757.48,609.48 L754.47,609.31 L751.47,609.29 L748.47,609.42 L745.46,609.7 L742.46,610.13 L739.46,610.72 L736.45,611.47 L733.45,612.4 L730.45,613.52 L727.44,614.85 L724.44,616.42 L721.44,618.23 L718.43,620.3 L715.43,622.62 L712.43,625.17 L709.42,627.91 L706.42,630.81 L703.42,633.84 L700.41,636.97 L697.41,640.18 L694.4,643.47 L691.4,646.85 L688.4,650.32 L685.39,653.87 L682.39,657.52 L679.39,661.26 L676.38,665.1 L673.38,669.04 L670.38,673.07 L667.37,677.22 L664.37,681.47 L661.37,685.82 L658.36,690.29 L655.36,694.86 L652.36,699.54 L649.35,704.32 L646.35,709.19 L643.35,714.16 L640.34,719.22 L637.34,724.37 L634.33,729.61 L631.33,734.93 L628.33,740.33 L625.32,745.81 L622.32,751.37 L619.32,756.99 L616.31,762.69 L613.31,768.45 L610.31,774.27 L607.3,780.16 L604.3,786.1Z" fill="#1077dc" fill-opacity="0.4" stroke="none"/>
<path d="M604.3,786.1 L607.3,781.12 L610.31,776.25 L613.31,771.48 L616.31,766.81 L619.32,762.25 L622.32,757.79 L625.32,753.43 L628.33,749.17 L631.33,745.01 L634.33,740.94 L637.34,736.96 L640.34,733.08 L643.35,729.29 L646.35,725.59 L649.35,721.98 L652.36,718.46 L655.36,715.02 L658.36,711.66 L661.37,708.39 L664.37,705.2 L667.37,702.09 L670.38,699.06 L673.38,696.1 L676.38,693.22 L679.39,690.42 L682.39,687.68 L685.39,685.02 L688.4,682.43 L691.4,679.91 L694.4,677.45 L697.41,675.06 L700.41,672.73 L703.42,670.47 L706.42,668.26 L709.42,666.12 L712.43,664.02 L715.43,661.99 L718.43,660 L721.44,658.06 L724.44,656.16 L727.44,654.31 L730.45,652.5 L733.45,650.73 L736.45,648.99 L739.46,647.28 L742.46,645.61 L745.46,643.96 L748.47,642.35 L751.47,640.77 L754.47,639.22 L757.48,637.7 L760.48,636.22 L763.48,634.78 L766.49,633.38 L769.49,632.01 L772.5,630.68 L775.5,629.39 L778.5,628.14 L781.51,626.93 L784.51,625.76 L787.51,624.64 L790.52,623.56 L793.52,622.53 L796.52,621.54 L799.53,620.61 L802.53,619.72 L805.53,618.89 L808.54,618.1 L811.54,617.37 L814.54,616.69 L817.55,616.07 L820.55,615.51 L823.55,615 L826.56,614.55 L829.56,614.16 L832.57,613.83 L835.57,613.56 L838.57,613.35 L841.58,613.21 L844.58,613.12 L847.58,613.1 L850.59,613.14 L853.59,613.24 L856.59,613.41 L859.6,613.64 L862.6,613.93 L865.6,614.29 L868.61,614.71 L871.61,615.19 L874.61,615.74 L877.62,616.36 L880.62,617.04 L883.62,617.79 L886.63,618.61 L889.63,619.49 L892.63,620.44 L895.64,621.46 L898.64,622.55 L901.65,623.7 L904.65,624.93 L907.65,626.22 L910.66,627.58 L913.66,629.02 L916.66,630.52 L919.67,632.09 L922.67,633.73 L925.67,635.43 L928.68,637.19 L931.68,638.99 L934.68,640.85 L937.69,642.74 L940.69,644.67 L943.69,646.62 L946.7,648.61 L949.7,650.61 L952.7,652.63 L955.71,654.66 L958.71,656.7 L961.72,658.73 L964.72,660.77 L967.72,662.79 L970.73,664.8 L973.73,666.78 L976.73,668.74 L979.74,670.68 L982.74,672.58 L985.74,674.43 L988.75,676.25 L991.75,678.01 L991.75,729.03 L988.75,726.83 L985.74,724.54 L982.74,722.19 L979.74,719.78 L976.73,717.32 L973.73,714.83 L970.73,712.32 L967.72,709.79 L964.72,707.27 L961.72,704.76 L958.71,702.27 L955.71,699.8 L952.7,697.37 L949.7,694.98 L946.7,692.63 L943.69,690.33 L940.69,688.08 L937.69,685.88 L934.68,683.75 L931.68,681.69 L928.68,679.7 L925.67,677.78 L922.67,675.95 L919.67,674.21 L916.66,672.55 L913.66,671 L910.66,669.53 L907.65,668.14 L904.65,666.83 L901.65,665.58 L898.64,664.4 L895.64,663.26 L892.63,662.18 L889.63,661.13 L886.63,660.11 L883.62,659.11 L880.62,658.13 L877.62,657.16 L874.61,656.19 L871.61,655.21 L868.61,654.22 L865.6,653.23 L862.6,652.23 L859.6,651.25 L856.59,650.28 L853.59,649.34 L850.59,648.44 L847.58,647.58 L844.58,646.78 L841.58,646.04 L838.57,645.38 L835.57,644.79 L832.57,644.29 L829.56,643.89 L826.56,643.6 L823.55,643.42 L820.55,643.35 L817.55,643.38 L814.54,643.5 L811.54,643.69 L808.54,643.95 L805.53,644.26 L802.53,644.61 L799.53,644.98 L796.52,645.39 L793.52,645.83 L790.52,646.31 L787.51,646.81 L784.51,647.35 L781.51,647.93 L778.5,648.55 L775.5,649.2 L772.5,649.9 L769.49,650.63 L766.49,651.41 L763.48,652.23 L760.48,653.1 L757.48,654.01 L754.47,654.97 L751.47,655.98 L748.47,657.04 L745.46,658.15 L742.46,659.31 L739.46,660.53 L736.45,661.8 L733.45,663.13 L730.45,664.51 L727.44,665.95 L724.44,667.45 L721.44,669.02 L718.43,670.64 L715.43,672.33 L712.43,674.09 L709.42,675.91 L706.42,677.8 L703.42,679.76 L700.41,681.79 L697.41,683.89 L694.4,686.06 L691.4,688.31 L688.4,690.63 L685.39,693.04 L682.39,695.52 L679.39,698.07 L676.38,700.72 L673.38,703.44 L670.38,706.25 L667.37,709.14 L664.37,712.12 L661.37,715.18 L658.36,718.33 L655.36,721.57 L652.36,724.89 L649.35,728.28 L646.35,731.75 L643.35,735.28 L640.34,738.89 L637.34,742.55 L634.33,746.28 L631.33,750.06 L628.33,753.9 L625.32,757.79 L622.32,761.72 L619.32,765.7 L616.31,769.71 L613.31,773.76 L610.31,777.85 L607.3,781.96 L604.3,786.1Z" fill="#ffc107" fill-opacity="0.4" stroke="none"/>
<path d="M604.3,786.1 L607.3,779.89 L610.31,773.75 L613.31,767.7 L616.31,761.73 L619.32,755.84 L622.32,750.03 L625.32,744.31 L628.33,738.68 L631.33,733.14 L634.33,727.68 L637.34,722.32 L640.34,717.05 L643.35,711.88 L646.35,706.8 L649.35,701.82 L652.36,696.94 L655.36,692.15 L658.36,687.47 L661.37,682.89 L664.37,678.42 L667.37,674.04 L670.38,669.78 L673.38,665.61 L676.38,661.54 L679.39,657.56 L682.39,653.69 L685.39,649.91 L688.4,646.22 L691.4,642.62 L694.4,639.11 L697.41,635.68 L700.41,632.35 L703.42,629.1 L706.42,625.95 L709.42,622.91 L712.43,620.01 L715.43,617.26 L718.43,614.67 L721.44,612.24 L724.44,610 L727.44,607.95 L730.45,606.08 L733.45,604.4 L736.45,602.9 L739.46,601.57 L742.46,600.43 L745.46,599.45 L748.47,598.64 L751.47,598 L754.47,597.51 L757.48,597.19 L760.48,597.02 L763.48,597.01 L766.49,597.14 L769.49,597.42 L772.5,597.85 L775.5,598.41 L778.5,599.11 L781.51,599.94 L784.51,600.91 L787.51,602 L790.52,603.21 L793.52,604.55 L796.52,606 L799.53,607.57 L802.53,609.24 L805.53,611.03 L808.54,612.92 L811.54,614.91 L814.54,617 L817.55,619.19 L820.55,621.46 L823.55,623.82 L826.56,626.27 L829.56,628.8 L832.57,631.4 L835.57,634.08 L838.57,636.83 L841.58,639.65 L844.58,642.53 L847.58,645.47 L850.59,648.47 L853.59,651.52 L856.59,654.62 L859.6,657.76 L862.6,660.96 L865.6,664.19 L868.61,667.45 L871.61,670.75 L874.61,674.08 L877.62,677.43 L880.62,680.77 L883.62,684.11 L886.63,687.43 L889.63,690.72 L892.63,693.96 L895.64,697.15 L898.64,700.27 L901.65,703.31 L904.65,706.25 L907.65,709.09 L910.66,711.81 L913.66,714.41 L916.66,716.86 L919.67,719.16 L922.67,721.32 L925.67,723.34 L928.68,725.22 L931.68,726.99 L934.68,728.63 L937.69,730.16 L940.69,731.59 L943.69,732.93 L946.7,734.17 L949.7,735.34 L952.7,736.42 L955.71,737.45 L958.71,738.41 L961.72,739.31 L964.72,740.18 L967.72,741 L970.73,741.79 L973.73,742.56 L976.73,743.31 L979.74,744.05 L982.74,744.79 L985.74,745.53 L988.75,746.28 L991.75,747.05" stroke="#1077dc" stroke-width="4.6"/>
<path d="M604.3,786.11 L607.3,781.51 L610.31,776.99 L613.31,772.54 L616.31,768.17 L619.32,763.87 L622.32,759.64 L625.32,755.49 L628.33,751.41 L631.33,747.41 L634.33,743.49 L637.34,739.65 L640.34,735.88 L643.35,732.2 L646.35,728.59 L649.35,725.06 L652.36,721.62 L655.36,718.25 L658.36,714.97 L661.37,711.76 L664.37,708.64 L667.37,705.61 L670.38,702.65 L673.38,699.77 L676.38,696.97 L679.39,694.25 L682.39,691.6 L685.39,689.02 L688.4,686.51 L691.4,684.08 L694.4,681.71 L697.41,679.41 L700.41,677.17 L703.42,675 L706.42,672.88 L709.42,670.83 L712.43,668.84 L715.43,666.9 L718.43,665.02 L721.44,663.19 L724.44,661.42 L727.44,659.69 L730.45,658.02 L733.45,656.39 L736.45,654.81 L739.46,653.27 L742.46,651.78 L745.46,650.33 L748.47,648.92 L751.47,647.56 L754.47,646.24 L757.48,644.96 L760.48,643.73 L763.48,642.55 L766.49,641.41 L769.49,640.32 L772.5,639.28 L775.5,638.28 L778.5,637.34 L781.51,636.44 L784.51,635.59 L787.51,634.79 L790.52,634.04 L793.52,633.34 L796.52,632.69 L799.53,632.09 L802.53,631.54 L805.53,631.05 L808.54,630.61 L811.54,630.22 L814.54,629.89 L817.55,629.61 L820.55,629.38 L823.55,629.21 L826.56,629.09 L829.56,629.04 L832.57,629.03 L835.57,629.09 L838.57,629.19 L841.58,629.36 L844.58,629.58 L847.58,629.86 L850.59,630.19 L853.59,630.58 L856.59,631.02 L859.6,631.53 L862.6,632.08 L865.6,632.7 L868.61,633.37 L871.61,634.1 L874.61,634.88 L877.62,635.72 L880.62,636.62 L883.62,637.58 L886.63,638.59 L889.63,639.66 L892.63,640.78 L895.64,641.96 L898.64,643.2 L901.65,644.5 L904.65,645.85 L907.65,647.26 L910.66,648.73 L913.66,650.26 L916.66,651.84 L919.67,653.48 L922.67,655.17 L925.67,656.92 L928.68,658.71 L931.68,660.56 L934.68,662.44 L937.69,664.37 L940.69,666.34 L943.69,668.34 L946.7,670.38 L949.7,672.44 L952.7,674.54 L955.71,676.66 L958.71,678.8 L961.72,680.96 L964.72,683.15 L967.72,685.34 L970.73,687.55 L973.73,689.77 L976.73,691.99 L979.74,694.22 L982.74,696.45 L985.74,698.68 L988.75,700.91 L991.75,703.13" stroke="#ffc107" stroke-width="4.6"/>
<path d="M604.3,786.12 L607.3,779.8 L610.31,773.58 L613.31,767.47 L616.31,761.45 L619.32,755.54 L622.32,749.72 L625.32,744 L628.33,738.39 L631.33,732.87 L634.33,727.44 L637.34,722.12 L640.34,716.9 L643.35,711.77 L646.35,706.74 L649.35,701.81 L652.36,696.97 L655.36,692.24 L658.36,687.59 L661.37,683.05 L664.37,678.6 L667.37,674.25 L670.38,669.99 L673.38,665.83 L676.38,661.76 L679.39,657.79 L682.39,653.92 L685.39,650.14 L688.4,646.45 L691.4,642.86 L694.4,639.36 L697.41,635.95 L700.41,632.64 L703.42,629.42 L706.42,626.29 L709.42,623.26 L712.43,620.3 L715.43,617.44 L718.43,614.65 L721.44,611.95 L724.44,609.32 L727.44,606.76 L730.45,604.28 L733.45,601.87 L736.45,599.52 L739.46,597.24 L742.46,595.02 L745.46,592.87 L748.47,590.76 L751.47,588.72 L754.47,586.72 L757.48,584.78 L760.48,582.89 L763.48,581.03 L766.49,579.23 L769.49,577.46 L772.5,575.73 L775.5,574.04 L778.5,572.37 L781.51,570.74 L784.51,569.14 L787.51,567.57 L790.52,566.03 L793.52,564.51 L796.52,563.03 L799.53,561.57 L802.53,560.14 L805.53,558.73 L808.54,557.36 L811.54,556.01 L814.54,554.68 L817.55,553.39 L820.55,552.12 L823.55,550.87 L826.56,549.65 L829.56,548.46 L832.57,547.29 L835.57,546.15 L838.57,545.03 L841.58,543.94 L844.58,542.86 L847.58,541.82 L850.59,540.79 L853.59,539.79 L856.59,538.82 L859.6,537.86 L862.6,536.93 L865.6,536.02 L868.61,535.13 L871.61,534.27 L874.61,533.42 L877.62,532.6 L880.62,531.8 L883.62,531.01 L886.63,530.25 L889.63,529.51 L892.63,528.79 L895.64,528.09 L898.64,527.4 L901.65,526.74 L904.65,526.09 L907.65,525.47 L910.66,524.86 L913.66,524.27 L916.66,523.7 L919.67,523.14 L922.67,522.6 L925.67,522.08 L928.68,521.58 L931.68,521.09 L934.68,520.62 L937.69,520.17 L940.69,519.73 L943.69,519.3 L946.7,518.89 L949.7,518.5 L952.7,518.12 L955.71,517.75 L958.71,517.4 L961.72,517.06 L964.72,516.74 L967.72,516.43 L970.73,516.13 L973.73,515.85 L976.73,515.58 L979.74,515.32 L982.74,515.07 L985.74,514.83 L988.75,514.61 L991.75,514.39" stroke="#1077dc" stroke-width="5.3" stroke-dasharray="17.7 6.4"/>
<path d="M604.3,786.11 L607.3,781.44 L610.31,776.86 L613.31,772.37 L616.31,767.97 L619.32,763.66 L622.32,759.43 L625.32,755.29 L628.33,751.24 L631.33,747.27 L634.33,743.39 L637.34,739.58 L640.34,735.86 L643.35,732.22 L646.35,728.66 L649.35,725.18 L652.36,721.77 L655.36,718.45 L658.36,715.19 L661.37,712.01 L664.37,708.91 L667.37,705.87 L670.38,702.91 L673.38,700.02 L676.38,697.2 L679.39,694.44 L682.39,691.76 L685.39,689.14 L688.4,686.58 L691.4,684.09 L694.4,681.66 L697.41,679.3 L700.41,676.99 L703.42,674.75 L706.42,672.57 L709.42,670.44 L712.43,668.37 L715.43,666.35 L718.43,664.39 L721.44,662.48 L724.44,660.62 L727.44,658.82 L730.45,657.06 L733.45,655.35 L736.45,653.68 L739.46,652.06 L742.46,650.49 L745.46,648.95 L748.47,647.46 L751.47,646.01 L754.47,644.6 L757.48,643.22 L760.48,641.88 L763.48,640.58 L766.49,639.3 L769.49,638.07 L772.5,636.86 L775.5,635.68 L778.5,634.53 L781.51,633.41 L784.51,632.31 L787.51,631.24 L790.52,630.19 L793.52,629.17 L796.52,628.16 L799.53,627.18 L802.53,626.21 L805.53,625.26 L808.54,624.33 L811.54,623.42 L814.54,622.53 L817.55,621.65 L820.55,620.79 L823.55,619.94 L826.56,619.12 L829.56,618.31 L832.57,617.52 L835.57,616.74 L838.57,615.98 L841.58,615.23 L844.58,614.51 L847.58,613.79 L850.59,613.1 L853.59,612.42 L856.59,611.75 L859.6,611.1 L862.6,610.46 L865.6,609.84 L868.61,609.24 L871.61,608.64 L874.61,608.07 L877.62,607.5 L880.62,606.95 L883.62,606.42 L886.63,605.9 L889.63,605.39 L892.63,604.9 L895.64,604.41 L898.64,603.95 L901.65,603.49 L904.65,603.05 L907.65,602.62 L910.66,602.2 L913.66,601.79 L916.66,601.4 L919.67,601.02 L922.67,600.65 L925.67,600.29 L928.68,599.94 L931.68,599.61 L934.68,599.28 L937.69,598.97 L940.69,598.67 L943.69,598.38 L946.7,598.1 L949.7,597.82 L952.7,597.56 L955.71,597.31 L958.71,597.07 L961.72,596.84 L964.72,596.62 L967.72,596.41 L970.73,596.2 L973.73,596.01 L976.73,595.82 L979.74,595.65 L982.74,595.48 L985.74,595.32 L988.75,595.17 L991.75,595.02" stroke="#ffc107" stroke-width="5.3" stroke-dasharray="17.7 6.4"/>
<path d="M604.3,786.1 L607.3,779.85 L610.31,773.7 L613.31,767.64 L616.31,761.68 L619.32,755.82 L622.32,750.05 L625.32,744.36 L628.33,738.77 L631.33,733.27 L634.33,727.86 L637.34,722.53 L640.34,717.28 L643.35,712.13 L646.35,707.05 L649.35,702.05 L652.36,697.14 L655.36,692.3 L658.36,687.55 L661.37,682.87 L664.37,678.26 L667.37,673.74 L670.38,669.31 L673.38,664.98 L676.38,660.77 L679.39,656.68 L682.39,652.73 L685.39,648.94 L688.4,645.3 L691.4,641.84 L694.4,638.55 L697.41,635.47 L700.41,632.59 L703.42,629.92 L706.42,627.49 L709.42,625.3 L712.43,623.35 L715.43,621.67 L718.43,620.26 L721.44,619.14 L724.44,618.28 L727.44,617.63 L730.45,617.12 L733.45,616.71 L736.45,616.33 L739.46,615.93 L742.46,615.45 L745.46,614.92 L748.47,614.36 L751.47,613.8 L754.47,613.29 L757.48,612.86 L760.48,612.54 L763.48,612.36 L766.49,612.32 L769.49,612.41 L772.5,612.64 L775.5,613 L778.5,613.48 L781.51,614.09 L784.51,614.83 L787.51,615.68 L790.52,616.64 L793.52,617.72 L796.52,618.91 L799.53,620.21 L802.53,621.61 L805.53,623.11 L808.54,624.71 L811.54,626.41 L814.54,628.2 L817.55,630.08 L820.55,632.05 L823.55,634.1 L826.56,636.23 L829.56,638.44 L832.57,640.73 L835.57,643.09 L838.57,645.52 L841.58,648.02 L844.58,650.58 L847.58,653.21 L850.59,655.89 L853.59,658.63 L856.59,661.42 L859.6,664.26 L862.6,667.15 L865.6,670.09 L868.61,673.06 L871.61,676.08 L874.61,679.13 L877.62,682.21 L880.62,685.33 L883.62,688.47 L886.63,691.64 L889.63,694.83 L892.63,698.03 L895.64,701.26 L898.64,704.49 L901.65,707.71 L904.65,710.92 L907.65,714.08 L910.66,717.2 L913.66,720.26 L916.66,723.23 L919.67,726.12 L922.67,728.9 L925.67,731.56 L928.68,734.09 L931.68,736.46 L934.68,738.68 L937.69,740.72 L940.69,742.57 L943.69,744.24 L946.7,745.73 L949.7,747.08 L952.7,748.3 L955.71,749.43 L958.71,750.47 L961.72,751.46 L964.72,752.41 L967.72,753.35 L970.73,754.29 L973.73,755.27 L976.73,756.3 L979.74,757.4 L982.74,758.6 L985.74,759.92 L988.75,761.38 L991.75,763" stroke="#000" stroke-width="5.5" stroke-dasharray="8.4 6.3"/>
<path d="M604.3,786.11 L607.3,781.51 L610.31,777 L613.31,772.55 L616.31,768.17 L619.32,763.87 L622.32,759.65 L625.32,755.5 L628.33,751.42 L631.33,747.42 L634.33,743.5 L637.34,739.65 L640.34,735.88 L643.35,732.19 L646.35,728.58 L649.35,725.05 L652.36,721.6 L655.36,718.23 L658.36,714.94 L661.37,711.74 L664.37,708.61 L667.37,705.57 L670.38,702.61 L673.38,699.73 L676.38,696.92 L679.39,694.2 L682.39,691.55 L685.39,688.97 L688.4,686.47 L691.4,684.05 L694.4,681.69 L697.41,679.41 L700.41,677.19 L703.42,675.04 L706.42,672.96 L709.42,670.95 L712.43,669 L715.43,667.11 L718.43,665.29 L721.44,663.53 L724.44,661.82 L727.44,660.18 L730.45,658.59 L733.45,657.06 L736.45,655.59 L739.46,654.17 L742.46,652.8 L745.46,651.49 L748.47,650.23 L751.47,649.01 L754.47,647.85 L757.48,646.75 L760.48,645.69 L763.48,644.68 L766.49,643.72 L769.49,642.81 L772.5,641.95 L775.5,641.13 L778.5,640.37 L781.51,639.65 L784.51,638.98 L787.51,638.35 L790.52,637.77 L793.52,637.24 L796.52,636.75 L799.53,636.31 L802.53,635.91 L805.53,635.56 L808.54,635.24 L811.54,634.98 L814.54,634.76 L817.55,634.58 L820.55,634.45 L823.55,634.36 L826.56,634.32 L829.56,634.33 L832.57,634.38 L835.57,634.48 L838.57,634.62 L841.58,634.81 L844.58,635.05 L847.58,635.32 L850.59,635.64 L853.59,636.01 L856.59,636.41 L859.6,636.86 L862.6,637.36 L865.6,637.89 L868.61,638.46 L871.61,639.08 L874.61,639.74 L877.62,640.43 L880.62,641.17 L883.62,641.95 L886.63,642.76 L889.63,643.62 L892.63,644.51 L895.64,645.44 L898.64,646.41 L901.65,647.42 L904.65,648.46 L907.65,649.54 L910.66,650.66 L913.66,651.81 L916.66,652.99 L919.67,654.22 L922.67,655.47 L925.67,656.77 L928.68,658.09 L931.68,659.45 L934.68,660.84 L937.69,662.27 L940.69,663.72 L943.69,665.21 L946.7,666.73 L949.7,668.29 L952.7,669.87 L955.71,671.48 L958.71,673.13 L961.72,674.8 L964.72,676.51 L967.72,678.24 L970.73,680 L973.73,681.79 L976.73,683.61 L979.74,685.45 L982.74,687.33 L985.74,689.23 L988.75,691.15 L991.75,693.1" stroke="#000" stroke-width="5.5" stroke-dasharray="8.4 6.3"/>
</g>
<circle cx="623.6" cy="747.6" r="7"/>
<circle cx="662.6" cy="681" r="7"/>
<circle cx="701.4" cy="631.6" r="7"/>
<circle cx="623.6" cy="758" r="7"/>
<circle cx="662.6" cy="710.4" r="7"/>
<circle cx="701.4" cy="676.4" r="7"/>
<rect x="165" y="493.6" width="292.6" height="292.5" fill="none" stroke="#000" stroke-width="5.8"/>
<path d="M238.15,786.1V771.8 M238.15,493.6V507.9 M311.3,786.1V771.8 M311.3,493.6V507.9 M384.45,786.1V771.8 M384.45,493.6V507.9 M165,566.73H174.2 M457.6,566.73H448.4 M165,639.85H174.2 M457.6,639.85H448.4 M165,712.98H174.2 M457.6,712.98H448.4 " stroke="#000" stroke-width="5.8" fill="none"/>
<text x="156.2" y="506.3" font-size="32.5" text-anchor="end">100</text>
<text x="156.2" y="652.55" font-size="32.5" text-anchor="end">0</text>
<text x="156.2" y="798.8" font-size="32.5" text-anchor="end">−100</text>
<text x="164" y="826.3" font-size="32.5" text-anchor="middle">−100</text>
<text x="310.8" y="826.3" font-size="32.5" text-anchor="middle">0</text>
<text x="457.6" y="826.3" font-size="32.5" text-anchor="middle">100</text>
<rect x="604.3" y="493.7" width="387.45" height="292.4" fill="none" stroke="#000" stroke-width="5.8"/>
<path d="M652.73,786.1V771.7 M652.73,493.7V508.1 M701.16,786.1V771.7 M701.16,493.7V508.1 M749.59,786.1V771.7 M749.59,493.7V508.1 M798.02,786.1V771.7 M798.02,493.7V508.1 M846.46,786.1V771.7 M846.46,493.7V508.1 M894.89,786.1V771.7 M894.89,493.7V508.1 M943.32,786.1V771.7 M943.32,493.7V508.1 M604.3,713H616.3 M991.75,713H979.75 M604.3,639.9H616.3 M991.75,639.9H979.75 M604.3,566.8H616.3 M991.75,566.8H979.75 " stroke="#000" stroke-width="5.8" fill="none"/>
<text x="596" y="798.9" font-size="32.5" text-anchor="end">0</text>
<text x="596" y="725.8" font-size="32.5" text-anchor="end">30</text>
<text x="596" y="652.7" font-size="32.5" text-anchor="end">60</text>
<text x="596" y="579.6" font-size="32.5" text-anchor="end">90</text>
<text x="596" y="506.5" font-size="32.5" text-anchor="end">120</text>
<text x="604.3" y="825.8" font-size="32.5" text-anchor="middle">0</text>
<text x="701.16" y="825.8" font-size="32.5" text-anchor="middle">1</text>
<text x="798.02" y="825.8" font-size="32.5" text-anchor="middle">2</text>
<text x="894.89" y="825.8" font-size="32.5" text-anchor="middle">3</text>
<text x="991.75" y="825.8" font-size="32.5" text-anchor="middle">4</text>
<text transform="matrix(1.1077,0,0,1,258.26,867.4)" font-size="34" style="font-style:italic">x</text>
<text transform="matrix(1.0000,0,0,1,287.67,867.4)" font-size="37">(</text>
<text transform="matrix(1.0455,0,0,1,299.95,867.4)" font-size="34">mm</text>
<text transform="matrix(1.0000,0,0,1,354.91,867.4)" font-size="37">)</text>
<text transform="matrix(0,-0.8800,1,0,97.3,692.5)" font-size="34" style="font-style:italic;stroke:#fff;stroke-width:0.45px">y</text>
<text transform="matrix(0,-0.8800,1,0,97.3,665.06)" font-size="37" style="stroke:#fff;stroke-width:0.45px">(</text>
<text transform="matrix(0,-1.0378,1,0,97.3,654.14)" font-size="34" style="stroke:#fff;stroke-width:0.45px">mm</text>
<text transform="matrix(0,-0.8839,1,0,97.3,598.35)" font-size="37" style="stroke:#fff;stroke-width:0.45px">)</text>
<text transform="matrix(0,-1.0200,1,0,23.9,714.1)" font-size="34" style="font-style:italic;stroke:#fff;stroke-width:0.45px">A</text>
<text transform="matrix(0,-1.1500,1,0,27.2,681.24)" font-size="34" style="stroke:#fff;stroke-width:0.45px">=</text>
<text transform="matrix(0,-0.9868,1,0,23.9,657.45)" font-size="34" style="stroke:#fff;stroke-width:0.45px">1.44g</text>
<text transform="matrix(1.1500,0,0,1,774.67,867.6)" font-size="34" style="font-style:italic">t</text>
<text transform="matrix(1.0000,0,0,1,799.07,867.6)" font-size="37">(</text>
<text transform="matrix(1.0935,0,0,1,810.68,867.6)" font-size="34">s</text>
<text transform="matrix(1.0000,0,0,1,824.41,867.6)" font-size="37">)</text>
<path d="M513.7,754.6H546.9" stroke="#000" stroke-width="1.9"/>
<path d="M514.1,737.5L530.3,748.5L546.5,737.5" fill="none" stroke="#000" stroke-width="2"/>
<text transform="matrix(0,-0.9028,1,0,538.2,734.92)" font-size="34" style="font-weight:bold;stroke:#fff;stroke-width:0.45px">Δ</text>
<text transform="matrix(0,-0.9742,1,0,538.2,711.79)" font-size="34" style="font-weight:bold;stroke:#fff;stroke-width:0.45px">r</text>
<text transform="matrix(0,-1.0102,1,0,538.2,695.94)" font-size="37" style="stroke:#fff;stroke-width:0.45px">(</text>
<text transform="matrix(0,-1.1500,1,0,538.2,682.73)" font-size="34" style="font-style:italic;stroke:#fff;stroke-width:0.45px">t</text>
<text transform="matrix(0,-0.9260,1,0,538.2,668.4)" font-size="37" style="stroke:#fff;stroke-width:0.45px">)</text>
<path d="M514.1,655.1L530.3,644.6L546.5,655.1" fill="none" stroke="#000" stroke-width="2"/>
<path d="M513.7,635.8H546.9" stroke="#000" stroke-width="1.9"/>
<text transform="matrix(0,-1.0944,1,0,538.2,618.38)" font-size="37" style="stroke:#fff;stroke-width:0.45px">(</text>
<text transform="matrix(0,-1.0146,1,0,538.2,606.02)" font-size="34" style="stroke:#fff;stroke-width:0.45px">mm</text>
<text transform="matrix(0,-0.8800,1,0,538.2,551.13)" font-size="37" style="stroke:#fff;stroke-width:0.45px">)</text>
<ellipse cx="311.3" cy="1081.42" rx="27.3" ry="17.6" fill="none" stroke="#bcbcff" stroke-width="8"/>
<ellipse cx="311.3" cy="1081.42" rx="27.3" ry="17.6" fill="none" stroke="#0000ff" stroke-width="3.8"/>
<ellipse cx="311.3" cy="1081.42" rx="73.5" ry="44.3" fill="none" stroke="#bcbcff" stroke-width="8" transform="rotate(-2 311.3 1081.42)"/>
<ellipse cx="311.3" cy="1081.42" rx="73.5" ry="44.3" fill="none" stroke="#0000ff" stroke-width="3.8" transform="rotate(-2 311.3 1081.42)"/>
<ellipse cx="311.3" cy="1081.42" rx="105.5" ry="60" fill="none" stroke="#bcbcff" stroke-width="8" transform="rotate(-2.5 311.3 1081.42)"/>
<ellipse cx="311.3" cy="1081.42" rx="105.5" ry="60" fill="none" stroke="#0000ff" stroke-width="3.8" transform="rotate(-2.5 311.3 1081.42)"/>
<path d="M338.7,1081.42 A27.4,17.9 0 0 0 283.9,1081.42 A27.4,17.9 0 0 0 338.7,1081.42" fill="none" stroke="#ff0000" stroke-width="5.6" stroke-dasharray="17.4 6.5"/>
<path d="M385.1,1081.42 A73.8,47 0 0 0 237.5,1081.42 A73.8,47 0 0 0 385.1,1081.42" fill="none" stroke="#ff0000" stroke-width="5.6" stroke-dasharray="17.4 6.5"/>
<path d="M414.5,1081.42 A103.2,66 0 0 0 208.1,1081.42 A103.2,66 0 0 0 414.5,1081.42" fill="none" stroke="#ff0000" stroke-width="5.6" stroke-dasharray="17.4 6.5"/>
<clipPath id="cb2"><rect x="604.3" y="935.2" width="387.45" height="292.45"/></clipPath>
<g clip-path="url(#cb2)" fill="none">
<path d="M604.3,1227.65 L607.3,1220.07 L610.31,1212.59 L613.31,1205.22 L616.31,1197.96 L619.32,1190.81 L622.32,1183.78 L625.32,1176.87 L628.33,1170.08 L631.33,1163.42 L634.33,1156.88 L637.34,1150.47 L640.34,1144.2 L643.35,1138.06 L646.35,1132.06 L649.35,1126.21 L652.36,1120.49 L655.36,1114.92 L658.36,1109.51 L661.37,1104.24 L664.37,1099.13 L667.37,1094.17 L670.38,1089.38 L673.38,1084.74 L676.38,1080.28 L679.39,1075.98 L682.39,1071.85 L685.39,1067.9 L688.4,1064.12 L691.4,1060.52 L694.4,1057.1 L697.41,1053.87 L700.41,1050.83 L703.42,1047.97 L706.42,1045.31 L709.42,1042.83 L712.43,1040.55 L715.43,1038.47 L718.43,1036.58 L721.44,1034.88 L724.44,1033.38 L727.44,1032.07 L730.45,1030.97 L733.45,1030.06 L736.45,1029.35 L739.46,1028.84 L742.46,1028.54 L745.46,1028.43 L748.47,1028.51 L751.47,1028.79 L754.47,1029.25 L757.48,1029.89 L760.48,1030.71 L763.48,1031.71 L766.49,1032.87 L769.49,1034.21 L772.5,1035.7 L775.5,1037.35 L778.5,1039.15 L781.51,1041.11 L784.51,1043.2 L787.51,1045.44 L790.52,1047.8 L793.52,1050.28 L796.52,1052.87 L799.53,1055.57 L802.53,1058.36 L805.53,1061.24 L808.54,1064.2 L811.54,1067.24 L814.54,1070.34 L817.55,1073.5 L820.55,1076.7 L823.55,1079.95 L826.56,1083.23 L829.56,1086.53 L832.57,1089.85 L835.57,1093.18 L838.57,1096.49 L841.58,1099.79 L844.58,1103.06 L847.58,1106.29 L850.59,1109.47 L853.59,1112.59 L856.59,1115.65 L859.6,1118.62 L862.6,1121.49 L865.6,1124.27 L868.61,1126.94 L871.61,1129.48 L874.61,1131.88 L877.62,1134.15 L880.62,1136.26 L883.62,1138.22 L886.63,1140 L889.63,1141.61 L892.63,1143.02 L895.64,1144.25 L898.64,1145.29 L901.65,1146.16 L904.65,1146.89 L907.65,1147.51 L910.66,1148.03 L913.66,1148.48 L916.66,1148.88 L919.67,1149.24 L922.67,1149.57 L925.67,1149.85 L928.68,1150.05 L931.68,1150.18 L934.68,1150.21 L937.69,1150.13 L940.69,1149.92 L943.69,1149.57 L946.7,1149.08 L949.7,1148.41 L952.7,1147.56 L955.71,1146.52 L958.71,1145.27 L961.72,1143.8 L964.72,1142.09 L967.72,1140.2 L970.73,1138.21 L973.73,1136.17 L976.73,1134.16 L979.74,1132.25 L982.74,1130.5 L985.74,1129 L988.75,1127.8 L991.75,1126.98 L991.75,1179.97 L988.75,1181.21 L985.74,1182.43 L982.74,1183.62 L979.74,1184.78 L976.73,1185.9 L973.73,1186.98 L970.73,1188.02 L967.72,1189.01 L964.72,1189.95 L961.72,1190.83 L958.71,1191.65 L955.71,1192.4 L952.7,1193.09 L949.7,1193.7 L946.7,1194.24 L943.69,1194.69 L940.69,1195.06 L937.69,1195.34 L934.68,1195.53 L931.68,1195.62 L928.68,1195.6 L925.67,1195.48 L922.67,1195.26 L919.67,1194.91 L916.66,1194.45 L913.66,1193.87 L910.66,1193.16 L907.65,1192.32 L904.65,1191.35 L901.65,1190.24 L898.64,1188.98 L895.64,1187.58 L892.63,1186.03 L889.63,1184.33 L886.63,1182.48 L883.62,1180.49 L880.62,1178.37 L877.62,1176.13 L874.61,1173.76 L871.61,1171.29 L868.61,1168.7 L865.6,1166.01 L862.6,1163.23 L859.6,1160.35 L856.59,1157.39 L853.59,1154.36 L850.59,1151.25 L847.58,1148.08 L844.58,1144.84 L841.58,1141.56 L838.57,1138.23 L835.57,1134.85 L832.57,1131.44 L829.56,1128.01 L826.56,1124.55 L823.55,1121.07 L820.55,1117.58 L817.55,1114.09 L814.54,1110.6 L811.54,1107.12 L808.54,1103.65 L805.53,1100.2 L802.53,1096.77 L799.53,1093.39 L796.52,1090.05 L793.52,1086.77 L790.52,1083.58 L787.51,1080.48 L784.51,1077.49 L781.51,1074.64 L778.5,1071.93 L775.5,1069.38 L772.5,1066.98 L769.49,1064.75 L766.49,1062.68 L763.48,1060.78 L760.48,1059.05 L757.48,1057.49 L754.47,1056.11 L751.47,1054.9 L748.47,1053.85 L745.46,1052.97 L742.46,1052.25 L739.46,1051.69 L736.45,1051.29 L733.45,1051.06 L730.45,1051.01 L727.44,1051.16 L724.44,1051.52 L721.44,1052.11 L718.43,1052.93 L715.43,1053.99 L712.43,1055.29 L709.42,1056.83 L706.42,1058.6 L703.42,1060.6 L700.41,1062.83 L697.41,1065.28 L694.4,1067.95 L691.4,1070.84 L688.4,1073.94 L685.39,1077.25 L682.39,1080.78 L679.39,1084.5 L676.38,1088.43 L673.38,1092.56 L670.38,1096.88 L667.37,1101.4 L664.37,1106.11 L661.37,1111 L658.36,1116.07 L655.36,1121.32 L652.36,1126.73 L649.35,1132.29 L646.35,1137.99 L643.35,1143.83 L640.34,1149.79 L637.34,1155.87 L634.33,1162.05 L631.33,1168.34 L628.33,1174.7 L625.32,1181.15 L622.32,1187.66 L619.32,1194.23 L616.31,1200.86 L613.31,1207.52 L610.31,1214.21 L607.3,1220.92 L604.3,1227.65Z" fill="#1077dc" fill-opacity="0.4" stroke="none"/>
<path d="M604.3,1227.66 L607.3,1222.54 L610.31,1217.51 L613.31,1212.59 L616.31,1207.76 L619.32,1203.03 L622.32,1198.4 L625.32,1193.87 L628.33,1189.43 L631.33,1185.1 L634.33,1180.87 L637.34,1176.74 L640.34,1172.72 L643.35,1168.8 L646.35,1164.98 L649.35,1161.26 L652.36,1157.65 L655.36,1154.14 L658.36,1150.74 L661.37,1147.45 L664.37,1144.26 L667.37,1141.18 L670.38,1138.21 L673.38,1135.35 L676.38,1132.59 L679.39,1129.95 L682.39,1127.41 L685.39,1124.99 L688.4,1122.68 L691.4,1120.48 L694.4,1118.39 L697.41,1116.42 L700.41,1114.56 L703.42,1112.81 L706.42,1111.17 L709.42,1109.64 L712.43,1108.21 L715.43,1106.86 L718.43,1105.6 L721.44,1104.42 L724.44,1103.31 L727.44,1102.26 L730.45,1101.28 L733.45,1100.34 L736.45,1099.46 L739.46,1098.61 L742.46,1097.79 L745.46,1097.01 L748.47,1096.26 L751.47,1095.54 L754.47,1094.86 L757.48,1094.21 L760.48,1093.59 L763.48,1093 L766.49,1092.45 L769.49,1091.93 L772.5,1091.44 L775.5,1090.99 L778.5,1090.57 L781.51,1090.19 L784.51,1089.84 L787.51,1089.53 L790.52,1089.25 L793.52,1089.02 L796.52,1088.82 L799.53,1088.67 L802.53,1088.57 L805.53,1088.51 L808.54,1088.5 L811.54,1088.54 L814.54,1088.63 L817.55,1088.77 L820.55,1088.97 L823.55,1089.22 L826.56,1089.53 L829.56,1089.9 L832.57,1090.33 L835.57,1090.8 L838.57,1091.33 L841.58,1091.91 L844.58,1092.53 L847.58,1093.2 L850.59,1093.91 L853.59,1094.66 L856.59,1095.44 L859.6,1096.26 L862.6,1097.1 L865.6,1097.98 L868.61,1098.89 L871.61,1099.82 L874.61,1100.77 L877.62,1101.74 L880.62,1102.73 L883.62,1103.73 L886.63,1104.74 L889.63,1105.77 L892.63,1106.8 L895.64,1107.83 L898.64,1108.87 L901.65,1109.91 L904.65,1110.95 L907.65,1111.98 L910.66,1113.01 L913.66,1114.02 L916.66,1115.03 L919.67,1116.02 L922.67,1117 L925.67,1117.97 L928.68,1118.94 L931.68,1119.92 L934.68,1120.89 L937.69,1121.88 L940.69,1122.89 L943.69,1123.91 L946.7,1124.95 L949.7,1126.02 L952.7,1127.12 L955.71,1128.25 L958.71,1129.42 L961.72,1130.63 L964.72,1131.89 L967.72,1133.2 L970.73,1134.57 L973.73,1135.99 L976.73,1137.47 L979.74,1139.02 L982.74,1140.64 L985.74,1142.34 L988.75,1144.11 L991.75,1145.97 L991.75,1187.97 L988.75,1183.37 L985.74,1179.57 L982.74,1176.45 L979.74,1173.89 L976.73,1171.75 L973.73,1169.92 L970.73,1168.26 L967.72,1166.72 L964.72,1165.26 L961.72,1163.89 L958.71,1162.6 L955.71,1161.37 L952.7,1160.21 L949.7,1159.1 L946.7,1158.04 L943.69,1157.01 L940.69,1156.02 L937.69,1155.05 L934.68,1154.09 L931.68,1153.14 L928.68,1152.19 L925.67,1151.23 L922.67,1150.27 L919.67,1149.3 L916.66,1148.33 L913.66,1147.35 L910.66,1146.37 L907.65,1145.39 L904.65,1144.41 L901.65,1143.43 L898.64,1142.44 L895.64,1141.45 L892.63,1140.47 L889.63,1139.48 L886.63,1138.5 L883.62,1137.51 L880.62,1136.53 L877.62,1135.55 L874.61,1134.57 L871.61,1133.6 L868.61,1132.63 L865.6,1131.66 L862.6,1130.7 L859.6,1129.75 L856.59,1128.8 L853.59,1127.85 L850.59,1126.92 L847.58,1126 L844.58,1125.09 L841.58,1124.19 L838.57,1123.31 L835.57,1122.44 L832.57,1121.59 L829.56,1120.76 L826.56,1119.95 L823.55,1119.17 L820.55,1118.4 L817.55,1117.66 L814.54,1116.95 L811.54,1116.27 L808.54,1115.62 L805.53,1114.99 L802.53,1114.4 L799.53,1113.85 L796.52,1113.32 L793.52,1112.84 L790.52,1112.39 L787.51,1111.99 L784.51,1111.62 L781.51,1111.3 L778.5,1111.03 L775.5,1110.79 L772.5,1110.61 L769.49,1110.47 L766.49,1110.39 L763.48,1110.35 L760.48,1110.37 L757.48,1110.45 L754.47,1110.58 L751.47,1110.76 L748.47,1111.01 L745.46,1111.32 L742.46,1111.69 L739.46,1112.12 L736.45,1112.62 L733.45,1113.18 L730.45,1113.82 L727.44,1114.53 L724.44,1115.31 L721.44,1116.18 L718.43,1117.12 L715.43,1118.15 L712.43,1119.27 L709.42,1120.47 L706.42,1121.77 L703.42,1123.16 L700.41,1124.65 L697.41,1126.24 L694.4,1127.94 L691.4,1129.74 L688.4,1131.64 L685.39,1133.66 L682.39,1135.79 L679.39,1138.04 L676.38,1140.4 L673.38,1142.89 L670.38,1145.5 L667.37,1148.24 L664.37,1151.11 L661.37,1154.11 L658.36,1157.25 L655.36,1160.5 L652.36,1163.88 L649.35,1167.36 L646.35,1170.94 L643.35,1174.62 L640.34,1178.38 L637.34,1182.22 L634.33,1186.14 L631.33,1190.12 L628.33,1194.16 L625.32,1198.25 L622.32,1202.38 L619.32,1206.54 L616.31,1210.74 L613.31,1214.95 L610.31,1219.18 L607.3,1223.42 L604.3,1227.65Z" fill="#ffc107" fill-opacity="0.4" stroke="none"/>
<path d="M604.3,1227.65 L607.3,1220.46 L610.31,1213.34 L613.31,1206.29 L616.31,1199.33 L619.32,1192.45 L622.32,1185.66 L625.32,1178.96 L628.33,1172.36 L631.33,1165.87 L634.33,1159.49 L637.34,1153.22 L640.34,1147.07 L643.35,1141.05 L646.35,1135.15 L649.35,1129.39 L652.36,1123.77 L655.36,1118.29 L658.36,1112.97 L661.37,1107.79 L664.37,1102.77 L667.37,1097.92 L670.38,1093.24 L673.38,1088.73 L676.38,1084.4 L679.39,1080.25 L682.39,1076.29 L685.39,1072.52 L688.4,1068.95 L691.4,1065.58 L694.4,1062.42 L697.41,1059.48 L700.41,1056.75 L703.42,1054.24 L706.42,1051.96 L709.42,1049.89 L712.43,1048.05 L715.43,1046.42 L718.43,1045.01 L721.44,1043.8 L724.44,1042.81 L727.44,1042.02 L730.45,1041.44 L733.45,1041.06 L736.45,1040.88 L739.46,1040.88 L742.46,1041.08 L745.46,1041.46 L748.47,1042.01 L751.47,1042.74 L754.47,1043.63 L757.48,1044.69 L760.48,1045.91 L763.48,1047.28 L766.49,1048.8 L769.49,1050.47 L772.5,1052.28 L775.5,1054.22 L778.5,1056.29 L781.51,1058.49 L784.51,1060.81 L787.51,1063.24 L790.52,1065.79 L793.52,1068.44 L796.52,1071.2 L799.53,1074.06 L802.53,1077 L805.53,1080.04 L808.54,1083.16 L811.54,1086.36 L814.54,1089.63 L817.55,1092.98 L820.55,1096.39 L823.55,1099.86 L826.56,1103.38 L829.56,1106.95 L832.57,1110.55 L835.57,1114.17 L838.57,1117.79 L841.58,1121.4 L844.58,1124.98 L847.58,1128.51 L850.59,1131.98 L853.59,1135.37 L856.59,1138.67 L859.6,1141.86 L862.6,1144.93 L865.6,1147.86 L868.61,1150.64 L871.61,1153.25 L874.61,1155.68 L877.62,1157.93 L880.62,1160.01 L883.62,1161.92 L886.63,1163.67 L889.63,1165.27 L892.63,1166.71 L895.64,1168 L898.64,1169.15 L901.65,1170.17 L904.65,1171.05 L907.65,1171.8 L910.66,1172.43 L913.66,1172.94 L916.66,1173.33 L919.67,1173.61 L922.67,1173.77 L925.67,1173.83 L928.68,1173.77 L931.68,1173.6 L934.68,1173.33 L937.69,1172.96 L940.69,1172.49 L943.69,1171.91 L946.7,1171.24 L949.7,1170.48 L952.7,1169.62 L955.71,1168.67 L958.71,1167.63 L961.72,1166.51 L964.72,1165.3 L967.72,1164 L970.73,1162.63 L973.73,1161.18 L976.73,1159.65 L979.74,1158.05 L982.74,1156.37 L985.74,1154.63 L988.75,1152.82 L991.75,1150.94" stroke="#1077dc" stroke-width="4.6"/>
<path d="M604.3,1227.65 L607.3,1223.02 L610.31,1218.42 L613.31,1213.86 L616.31,1209.34 L619.32,1204.86 L622.32,1200.44 L625.32,1196.07 L628.33,1191.76 L631.33,1187.53 L634.33,1183.37 L637.34,1179.29 L640.34,1175.3 L643.35,1171.4 L646.35,1167.6 L649.35,1163.9 L652.36,1160.32 L655.36,1156.85 L658.36,1153.49 L661.37,1150.27 L664.37,1147.18 L667.37,1144.22 L670.38,1141.4 L673.38,1138.7 L676.38,1136.12 L679.39,1133.67 L682.39,1131.33 L685.39,1129.1 L688.4,1126.99 L691.4,1124.99 L694.4,1123.09 L697.41,1121.29 L700.41,1119.59 L703.42,1117.98 L706.42,1116.47 L709.42,1115.04 L712.43,1113.71 L715.43,1112.45 L718.43,1111.27 L721.44,1110.17 L724.44,1109.14 L727.44,1108.18 L730.45,1107.29 L733.45,1106.46 L736.45,1105.69 L739.46,1104.97 L742.46,1104.32 L745.46,1103.71 L748.47,1103.15 L751.47,1102.65 L754.47,1102.2 L757.48,1101.8 L760.48,1101.45 L763.48,1101.14 L766.49,1100.89 L769.49,1100.68 L772.5,1100.52 L775.5,1100.41 L778.5,1100.35 L781.51,1100.33 L784.51,1100.36 L787.51,1100.43 L790.52,1100.54 L793.52,1100.7 L796.52,1100.91 L799.53,1101.15 L802.53,1101.44 L805.53,1101.77 L808.54,1102.14 L811.54,1102.55 L814.54,1103 L817.55,1103.49 L820.55,1104.02 L823.55,1104.59 L826.56,1105.2 L829.56,1105.84 L832.57,1106.52 L835.57,1107.23 L838.57,1107.99 L841.58,1108.77 L844.58,1109.59 L847.58,1110.45 L850.59,1111.33 L853.59,1112.25 L856.59,1113.2 L859.6,1114.18 L862.6,1115.17 L865.6,1116.19 L868.61,1117.23 L871.61,1118.29 L874.61,1119.36 L877.62,1120.45 L880.62,1121.54 L883.62,1122.64 L886.63,1123.75 L889.63,1124.86 L892.63,1125.97 L895.64,1127.07 L898.64,1128.18 L901.65,1129.27 L904.65,1130.36 L907.65,1131.43 L910.66,1132.49 L913.66,1133.53 L916.66,1134.56 L919.67,1135.56 L922.67,1136.54 L925.67,1137.5 L928.68,1138.42 L931.68,1139.31 L934.68,1140.17 L937.69,1141 L940.69,1141.79 L943.69,1142.54 L946.7,1143.29 L949.7,1144.06 L952.7,1144.86 L955.71,1145.72 L958.71,1146.66 L961.72,1147.7 L964.72,1148.88 L967.72,1150.2 L970.73,1151.69 L973.73,1153.38 L976.73,1155.29 L979.74,1157.43 L982.74,1159.84 L985.74,1162.53 L988.75,1165.53 L991.75,1168.86" stroke="#ffc107" stroke-width="4.6"/>
<path d="M604.3,1227.66 L607.3,1220.44 L610.31,1213.29 L613.31,1206.22 L616.31,1199.22 L619.32,1192.31 L622.32,1185.48 L625.32,1178.76 L628.33,1172.14 L631.33,1165.63 L634.33,1159.24 L637.34,1152.96 L640.34,1146.82 L643.35,1140.81 L646.35,1134.95 L649.35,1129.23 L652.36,1123.66 L655.36,1118.26 L658.36,1113.02 L661.37,1107.95 L664.37,1103.06 L667.37,1098.35 L670.38,1093.81 L673.38,1089.44 L676.38,1085.23 L679.39,1081.18 L682.39,1077.28 L685.39,1073.52 L688.4,1069.91 L691.4,1066.44 L694.4,1063.1 L697.41,1059.88 L700.41,1056.79 L703.42,1053.81 L706.42,1050.94 L709.42,1048.18 L712.43,1045.53 L715.43,1042.98 L718.43,1040.53 L721.44,1038.18 L724.44,1035.92 L727.44,1033.75 L730.45,1031.66 L733.45,1029.66 L736.45,1027.74 L739.46,1025.89 L742.46,1024.12 L745.46,1022.42 L748.47,1020.79 L751.47,1019.22 L754.47,1017.71 L757.48,1016.25 L760.48,1014.86 L763.48,1013.51 L766.49,1012.21 L769.49,1010.95 L772.5,1009.74 L775.5,1008.56 L778.5,1007.42 L781.51,1006.31 L784.51,1005.23 L787.51,1004.18 L790.52,1003.16 L793.52,1002.17 L796.52,1001.2 L799.53,1000.27 L802.53,999.35 L805.53,998.47 L808.54,997.61 L811.54,996.78 L814.54,995.97 L817.55,995.19 L820.55,994.43 L823.55,993.7 L826.56,992.99 L829.56,992.3 L832.57,991.63 L835.57,990.99 L838.57,990.37 L841.58,989.77 L844.58,989.19 L847.58,988.63 L850.59,988.09 L853.59,987.57 L856.59,987.06 L859.6,986.58 L862.6,986.11 L865.6,985.67 L868.61,985.23 L871.61,984.82 L874.61,984.42 L877.62,984.04 L880.62,983.67 L883.62,983.32 L886.63,982.98 L889.63,982.65 L892.63,982.34 L895.64,982.04 L898.64,981.76 L901.65,981.48 L904.65,981.22 L907.65,980.97 L910.66,980.73 L913.66,980.5 L916.66,980.28 L919.67,980.07 L922.67,979.86 L925.67,979.67 L928.68,979.48 L931.68,979.3 L934.68,979.13 L937.69,978.97 L940.69,978.81 L943.69,978.65 L946.7,978.5 L949.7,978.36 L952.7,978.22 L955.71,978.09 L958.71,977.95 L961.72,977.82 L964.72,977.7 L967.72,977.57 L970.73,977.45 L973.73,977.33 L976.73,977.21 L979.74,977.09 L982.74,976.96 L985.74,976.84 L988.75,976.72 L991.75,976.59" stroke="#1077dc" stroke-width="5.3" stroke-dasharray="17.7 6.4"/>
<path d="M604.3,1227.66 L607.3,1222.92 L610.31,1218.24 L613.31,1213.62 L616.31,1209.06 L619.32,1204.57 L622.32,1200.15 L625.32,1195.8 L628.33,1191.53 L631.33,1187.35 L634.33,1183.24 L637.34,1179.23 L640.34,1175.3 L643.35,1171.47 L646.35,1167.73 L649.35,1164.09 L652.36,1160.55 L655.36,1157.12 L658.36,1153.8 L661.37,1150.59 L664.37,1147.49 L667.37,1144.5 L670.38,1141.62 L673.38,1138.85 L676.38,1136.18 L679.39,1133.61 L682.39,1131.14 L685.39,1128.76 L688.4,1126.46 L691.4,1124.25 L694.4,1122.12 L697.41,1120.07 L700.41,1118.1 L703.42,1116.19 L706.42,1114.35 L709.42,1112.58 L712.43,1110.87 L715.43,1109.23 L718.43,1107.65 L721.44,1106.13 L724.44,1104.66 L727.44,1103.26 L730.45,1101.9 L733.45,1100.6 L736.45,1099.35 L739.46,1098.15 L742.46,1097 L745.46,1095.9 L748.47,1094.83 L751.47,1093.82 L754.47,1092.84 L757.48,1091.9 L760.48,1091 L763.48,1090.13 L766.49,1089.3 L769.49,1088.5 L772.5,1087.73 L775.5,1086.99 L778.5,1086.28 L781.51,1085.59 L784.51,1084.93 L787.51,1084.29 L790.52,1083.67 L793.52,1083.07 L796.52,1082.48 L799.53,1081.91 L802.53,1081.35 L805.53,1080.81 L808.54,1080.28 L811.54,1079.76 L814.54,1079.26 L817.55,1078.76 L820.55,1078.29 L823.55,1077.82 L826.56,1077.36 L829.56,1076.92 L832.57,1076.49 L835.57,1076.07 L838.57,1075.66 L841.58,1075.27 L844.58,1074.89 L847.58,1074.51 L850.59,1074.15 L853.59,1073.8 L856.59,1073.46 L859.6,1073.14 L862.6,1072.82 L865.6,1072.51 L868.61,1072.22 L871.61,1071.93 L874.61,1071.66 L877.62,1071.4 L880.62,1071.14 L883.62,1070.9 L886.63,1070.67 L889.63,1070.44 L892.63,1070.23 L895.64,1070.02 L898.64,1069.83 L901.65,1069.64 L904.65,1069.47 L907.65,1069.3 L910.66,1069.14 L913.66,1068.99 L916.66,1068.85 L919.67,1068.72 L922.67,1068.6 L925.67,1068.48 L928.68,1068.37 L931.68,1068.28 L934.68,1068.19 L937.69,1068.1 L940.69,1068.03 L943.69,1067.96 L946.7,1067.9 L949.7,1067.85 L952.7,1067.81 L955.71,1067.77 L958.71,1067.74 L961.72,1067.72 L964.72,1067.7 L967.72,1067.69 L970.73,1067.69 L973.73,1067.69 L976.73,1067.7 L979.74,1067.72 L982.74,1067.74 L985.74,1067.77 L988.75,1067.81 L991.75,1067.85" stroke="#ffc107" stroke-width="5.3" stroke-dasharray="17.7 6.4"/>
<path d="M604.3,1227.65 L607.3,1220.68 L610.31,1213.69 L613.31,1206.69 L616.31,1199.71 L619.32,1192.74 L622.32,1185.83 L625.32,1178.97 L628.33,1172.19 L631.33,1165.5 L634.33,1158.93 L637.34,1152.48 L640.34,1146.18 L643.35,1140.04 L646.35,1134.09 L649.35,1128.32 L652.36,1122.77 L655.36,1117.46 L658.36,1112.38 L661.37,1107.58 L664.37,1103.05 L667.37,1098.8 L670.38,1094.83 L673.38,1091.11 L676.38,1087.65 L679.39,1084.42 L682.39,1081.43 L685.39,1078.67 L688.4,1076.17 L691.4,1073.92 L694.4,1071.94 L697.41,1070.23 L700.41,1068.78 L703.42,1067.53 L706.42,1066.47 L709.42,1065.57 L712.43,1064.8 L715.43,1064.16 L718.43,1063.67 L721.44,1063.31 L724.44,1063.08 L727.44,1063 L730.45,1063.04 L733.45,1063.23 L736.45,1063.55 L739.46,1064 L742.46,1064.59 L745.46,1065.32 L748.47,1066.18 L751.47,1067.18 L754.47,1068.31 L757.48,1069.58 L760.48,1070.99 L763.48,1072.52 L766.49,1074.2 L769.49,1076.01 L772.5,1077.95 L775.5,1080.04 L778.5,1082.25 L781.51,1084.6 L784.51,1087.08 L787.51,1089.68 L790.52,1092.39 L793.52,1095.2 L796.52,1098.11 L799.53,1101.09 L802.53,1104.15 L805.53,1107.27 L808.54,1110.44 L811.54,1113.65 L814.54,1116.9 L817.55,1120.17 L820.55,1123.45 L823.55,1126.74 L826.56,1130.03 L829.56,1133.29 L832.57,1136.53 L835.57,1139.74 L838.57,1142.91 L841.58,1146.01 L844.58,1149.06 L847.58,1152.03 L850.59,1154.92 L853.59,1157.73 L856.59,1160.45 L859.6,1163.09 L862.6,1165.65 L865.6,1168.13 L868.61,1170.53 L871.61,1172.85 L874.61,1175.1 L877.62,1177.28 L880.62,1179.38 L883.62,1181.42 L886.63,1183.38 L889.63,1185.28 L892.63,1187.1 L895.64,1188.86 L898.64,1190.56 L901.65,1192.19 L904.65,1193.76 L907.65,1195.26 L910.66,1196.69 L913.66,1198.06 L916.66,1199.36 L919.67,1200.59 L922.67,1201.76 L925.67,1202.86 L928.68,1203.89 L931.68,1204.85 L934.68,1205.75 L937.69,1206.58 L940.69,1207.34 L943.69,1208.03 L946.7,1208.66 L949.7,1209.21 L952.7,1209.7 L955.71,1210.12 L958.71,1210.47 L961.72,1210.74 L964.72,1210.95 L967.72,1211.09 L970.73,1211.16 L973.73,1211.16 L976.73,1211.09 L979.74,1210.95 L982.74,1210.73 L985.74,1210.45 L988.75,1210.1 L991.75,1209.67" stroke="#000" stroke-width="5.5" stroke-dasharray="8.4 6.3"/>
<path d="M604.3,1227.67 L607.3,1222.89 L610.31,1218.18 L613.31,1213.54 L616.31,1208.98 L619.32,1204.48 L622.32,1200.06 L625.32,1195.72 L628.33,1191.46 L631.33,1187.29 L634.33,1183.2 L637.34,1179.19 L640.34,1175.28 L643.35,1171.46 L646.35,1167.73 L649.35,1164.1 L652.36,1160.57 L655.36,1157.14 L658.36,1153.81 L661.37,1150.59 L664.37,1147.47 L667.37,1144.47 L670.38,1141.57 L673.38,1138.78 L676.38,1136.09 L679.39,1133.5 L682.39,1131.01 L685.39,1128.63 L688.4,1126.34 L691.4,1124.14 L694.4,1122.05 L697.41,1120.04 L700.41,1118.13 L703.42,1116.3 L706.42,1114.57 L709.42,1112.92 L712.43,1111.36 L715.43,1109.88 L718.43,1108.49 L721.44,1107.18 L724.44,1105.94 L727.44,1104.79 L730.45,1103.71 L733.45,1102.71 L736.45,1101.78 L739.46,1100.92 L742.46,1100.14 L745.46,1099.42 L748.47,1098.77 L751.47,1098.19 L754.47,1097.68 L757.48,1097.23 L760.48,1096.84 L763.48,1096.52 L766.49,1096.25 L769.49,1096.05 L772.5,1095.9 L775.5,1095.82 L778.5,1095.78 L781.51,1095.81 L784.51,1095.88 L787.51,1096.01 L790.52,1096.19 L793.52,1096.42 L796.52,1096.69 L799.53,1097.02 L802.53,1097.39 L805.53,1097.81 L808.54,1098.27 L811.54,1098.77 L814.54,1099.31 L817.55,1099.89 L820.55,1100.51 L823.55,1101.17 L826.56,1101.87 L829.56,1102.6 L832.57,1103.36 L835.57,1104.16 L838.57,1104.99 L841.58,1105.85 L844.58,1106.74 L847.58,1107.66 L850.59,1108.6 L853.59,1109.58 L856.59,1110.58 L859.6,1111.6 L862.6,1112.65 L865.6,1113.72 L868.61,1114.82 L871.61,1115.93 L874.61,1117.07 L877.62,1118.22 L880.62,1119.39 L883.62,1120.58 L886.63,1121.78 L889.63,1123 L892.63,1124.23 L895.64,1125.48 L898.64,1126.73 L901.65,1128 L904.65,1129.28 L907.65,1130.56 L910.66,1131.86 L913.66,1133.16 L916.66,1134.46 L919.67,1135.77 L922.67,1137.09 L925.67,1138.4 L928.68,1139.72 L931.68,1141.04 L934.68,1142.36 L937.69,1143.68 L940.69,1144.99 L943.69,1146.31 L946.7,1147.61 L949.7,1148.92 L952.7,1150.21 L955.71,1151.5 L958.71,1152.78 L961.72,1154.05 L964.72,1155.31 L967.72,1156.56 L970.73,1157.79 L973.73,1159.01 L976.73,1160.22 L979.74,1161.41 L982.74,1162.59 L985.74,1163.75 L988.75,1164.88 L991.75,1166" stroke="#000" stroke-width="5.5" stroke-dasharray="8.4 6.3"/>
</g>
<circle cx="624" cy="1182" r="7"/>
<circle cx="662.6" cy="1105.6" r="7"/>
<circle cx="701.4" cy="1056" r="7"/>
<circle cx="624" cy="1198" r="7"/>
<circle cx="662.6" cy="1149" r="7"/>
<circle cx="701.4" cy="1117.6" r="7"/>
<rect x="165" y="935.1" width="292.6" height="292.65" fill="none" stroke="#000" stroke-width="5.8"/>
<path d="M238.15,1227.75V1213.45 M238.15,935.1V949.4 M311.3,1227.75V1213.45 M311.3,935.1V949.4 M384.45,1227.75V1213.45 M384.45,935.1V949.4 M165,1008.26H174.2 M457.6,1008.26H448.4 M165,1081.42H174.2 M457.6,1081.42H448.4 M165,1154.59H174.2 M457.6,1154.59H448.4 " stroke="#000" stroke-width="5.8" fill="none"/>
<text x="156.2" y="947.8" font-size="32.5" text-anchor="end">100</text>
<text x="156.2" y="1094.12" font-size="32.5" text-anchor="end">0</text>
<text x="156.2" y="1240.45" font-size="32.5" text-anchor="end">−100</text>
<text x="164" y="1267.95" font-size="32.5" text-anchor="middle">−100</text>
<text x="310.8" y="1267.95" font-size="32.5" text-anchor="middle">0</text>
<text x="457.6" y="1267.95" font-size="32.5" text-anchor="middle">100</text>
<rect x="604.3" y="935.2" width="387.45" height="292.45" fill="none" stroke="#000" stroke-width="5.8"/>
<path d="M652.73,1227.65V1213.25 M652.73,935.2V949.6 M701.16,1227.65V1213.25 M701.16,935.2V949.6 M749.59,1227.65V1213.25 M749.59,935.2V949.6 M798.02,1227.65V1213.25 M798.02,935.2V949.6 M846.46,1227.65V1213.25 M846.46,935.2V949.6 M894.89,1227.65V1213.25 M894.89,935.2V949.6 M943.32,1227.65V1213.25 M943.32,935.2V949.6 M604.3,1154.54H616.3 M991.75,1154.54H979.75 M604.3,1081.43H616.3 M991.75,1081.43H979.75 M604.3,1008.31H616.3 M991.75,1008.31H979.75 " stroke="#000" stroke-width="5.8" fill="none"/>
<text x="596" y="1240.45" font-size="32.5" text-anchor="end">0</text>
<text x="596" y="1167.34" font-size="32.5" text-anchor="end">30</text>
<text x="596" y="1094.23" font-size="32.5" text-anchor="end">60</text>
<text x="596" y="1021.11" font-size="32.5" text-anchor="end">90</text>
<text x="596" y="948" font-size="32.5" text-anchor="end">120</text>
<text x="604.3" y="1267.35" font-size="32.5" text-anchor="middle">0</text>
<text x="701.16" y="1267.35" font-size="32.5" text-anchor="middle">1</text>
<text x="798.02" y="1267.35" font-size="32.5" text-anchor="middle">2</text>
<text x="894.89" y="1267.35" font-size="32.5" text-anchor="middle">3</text>
<text x="991.75" y="1267.35" font-size="32.5" text-anchor="middle">4</text>
<text transform="matrix(1.1077,0,0,1,258.26,1308.9)" font-size="34" style="font-style:italic">x</text>
<text transform="matrix(1.0000,0,0,1,287.67,1308.9)" font-size="37">(</text>
<text transform="matrix(1.0455,0,0,1,299.95,1308.9)" font-size="34">mm</text>
<text transform="matrix(1.0000,0,0,1,354.91,1308.9)" font-size="37">)</text>
<text transform="matrix(0,-0.8800,1,0,97.3,1134)" font-size="34" style="font-style:italic;stroke:#fff;stroke-width:0.45px">y</text>
<text transform="matrix(0,-0.8800,1,0,97.3,1106.56)" font-size="37" style="stroke:#fff;stroke-width:0.45px">(</text>
<text transform="matrix(0,-1.0378,1,0,97.3,1095.64)" font-size="34" style="stroke:#fff;stroke-width:0.45px">mm</text>
<text transform="matrix(0,-0.8839,1,0,97.3,1039.85)" font-size="37" style="stroke:#fff;stroke-width:0.45px">)</text>
<text transform="matrix(0,-1.0200,1,0,23.9,1155.6)" font-size="34" style="font-style:italic;stroke:#fff;stroke-width:0.45px">A</text>
<text transform="matrix(0,-1.1500,1,0,27.2,1122.74)" font-size="34" style="stroke:#fff;stroke-width:0.45px">=</text>
<text transform="matrix(0,-0.9868,1,0,23.9,1098.95)" font-size="34" style="stroke:#fff;stroke-width:0.45px">1.60g</text>
<text transform="matrix(1.1500,0,0,1,774.67,1309.1)" font-size="34" style="font-style:italic">t</text>
<text transform="matrix(1.0000,0,0,1,799.07,1309.1)" font-size="37">(</text>
<text transform="matrix(1.0935,0,0,1,810.68,1309.1)" font-size="34">s</text>
<text transform="matrix(1.0000,0,0,1,824.41,1309.1)" font-size="37">)</text>
<path d="M513.7,1196.1H546.9" stroke="#000" stroke-width="1.9"/>
<path d="M514.1,1179L530.3,1190L546.5,1179" fill="none" stroke="#000" stroke-width="2"/>
<text transform="matrix(0,-0.9028,1,0,538.2,1176.42)" font-size="34" style="font-weight:bold;stroke:#fff;stroke-width:0.45px">Δ</text>
<text transform="matrix(0,-0.9742,1,0,538.2,1153.29)" font-size="34" style="font-weight:bold;stroke:#fff;stroke-width:0.45px">r</text>
<text transform="matrix(0,-1.0102,1,0,538.2,1137.44)" font-size="37" style="stroke:#fff;stroke-width:0.45px">(</text>
<text transform="matrix(0,-1.1500,1,0,538.2,1124.23)" font-size="34" style="font-style:italic;stroke:#fff;stroke-width:0.45px">t</text>
<text transform="matrix(0,-0.9260,1,0,538.2,1109.9)" font-size="37" style="stroke:#fff;stroke-width:0.45px">)</text>
<path d="M514.1,1096.6L530.3,1086.1L546.5,1096.6" fill="none" stroke="#000" stroke-width="2"/>
<path d="M513.7,1077.3H546.9" stroke="#000" stroke-width="1.9"/>
<text transform="matrix(0,-1.0944,1,0,538.2,1059.88)" font-size="37" style="stroke:#fff;stroke-width:0.45px">(</text>
<text transform="matrix(0,-1.0146,1,0,538.2,1047.52)" font-size="34" style="stroke:#fff;stroke-width:0.45px">mm</text>
<text transform="matrix(0,-0.8800,1,0,538.2,992.63)" font-size="37" style="stroke:#fff;stroke-width:0.45px">)</text>
<text transform="matrix(1.1500,0,0,1,63.47,22)" font-size="43.5" style="font-weight:bold">a</text>
<text transform="matrix(1.1427,0,0,1,512.37,29.6)" font-size="43.5" style="font-weight:bold">b</text>
<path d="M209.4,86.4L201.4,102.6L209.4,118.8" fill="none" stroke="#000" stroke-width="2" stroke-linejoin="miter"/>
<text transform="matrix(1.1500,0,0,1,213.31,110.9)" font-size="34" style="font-weight:bold">Δ</text>
<text transform="matrix(0.8800,0,0,1,238.38,110.9)" font-size="34" style="font-weight:bold">r</text>
<text transform="matrix(1.0000,0,0,1,255.52,110.9)" font-size="37">(</text>
<text transform="matrix(1.0541,0,0,1,268.02,110.9)" font-size="34" style="font-style:italic">t</text>
<text transform="matrix(1.0000,0,0,1,279.76,110.9)" font-size="37">)</text>
<path d="M295.1,86.4L303.1,102.6L295.1,118.8" fill="none" stroke="#000" stroke-width="2" stroke-linejoin="miter"/>
<text transform="matrix(1.1500,0,0,1,199.72,309)" font-size="35.5" style="font-style:italic">t</text>
<text transform="matrix(1.1500,0,0,1,222.22,311)" font-size="35.5">=</text>
<text transform="matrix(0.9814,0,0,1,254.97,309)" font-size="35.5">0.2</text>
<text transform="matrix(1.1500,0,0,1,301.55,309)" font-size="35.5">s,</text>
<text transform="matrix(0.9722,0,0,1,331.19,309)" font-size="35.5">0.6</text>
<text transform="matrix(1.1212,0,0,1,377.67,309)" font-size="35.5">s,</text>
<text transform="matrix(1.0802,0,0,1,404.53,309)" font-size="35.5">1</text>
<text transform="matrix(1.1500,0,0,1,426.76,309)" font-size="35.5">s</text>
<text transform="matrix(1.1500,0,0,1,907.96,249.4)" font-size="24.5">Exp.</text>
<text transform="matrix(1.0921,0,0,1,911.14,281.6)" font-size="24.5">Anl.</text>
<text transform="matrix(1.1072,0,0,1,908.19,311.7)" font-size="24.5">Sim.</text>
<path d="M855.1,242.4H897.7" stroke="#000" stroke-width="5.6"/>
<path d="M855.1,272.9H896.7" stroke="#000" stroke-width="5.6" stroke-dasharray="17.4 7.7"/>
<path d="M856.5,304H894.9" stroke="#000" stroke-width="5.6" stroke-dasharray="8 7.4"/>
<circle cx="321" cy="740.3" r="5.2"/>
<path d="M321,740.3H403" stroke="#000" stroke-width="4.4"/>
<path d="M411.9,740.3 L395.5,732.5 L401.5,740.3 L395.5,748.1 Z"/>
<text transform="matrix(1.1500,0,0,1,420.77,750.5)" font-size="34" style="font-style:italic">t</text>
<circle cx="321" cy="1181.5" r="5.2"/>
<path d="M321,1181.5H403" stroke="#000" stroke-width="4.4"/>
<path d="M411.9,1181.5 L395.5,1173.7 L401.5,1181.5 L395.5,1189.3 Z"/>
<text transform="matrix(1.1500,0,0,1,420.77,1191.7)" font-size="34" style="font-style:italic">t</text>
</svg>
</body></html>
